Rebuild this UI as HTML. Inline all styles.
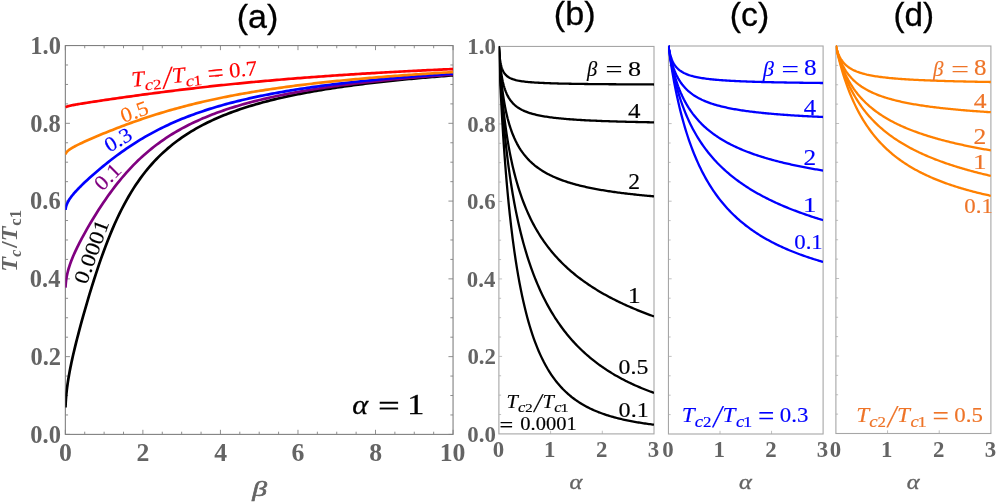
<!DOCTYPE html>
<html lang="en"><head><meta charset="utf-8"><title>Tc figure</title>
<style>html,body{margin:0;padding:0;background:#fff}svg{display:block;will-change:transform}</style></head>
<body>
<svg width="996" height="502" viewBox="0 0 996 502" role="img" aria-label="Tc/Tc1 versus beta and alpha">
<rect width="996" height="502" fill="#fff"/>
<g id="pa">
<path d="M65.35 434.40v-4.6M65.35 45.55v4.6M142.89 434.40v-4.6M142.89 45.55v4.6M220.43 434.40v-4.6M220.43 45.55v4.6M297.97 434.40v-4.6M297.97 45.55v4.6M375.51 434.40v-4.6M375.51 45.55v4.6M453.05 434.40v-4.6M453.05 45.55v4.6M84.73 434.40v-2.7M84.73 45.55v2.7M104.12 434.40v-2.7M104.12 45.55v2.7M123.50 434.40v-2.7M123.50 45.55v2.7M162.28 434.40v-2.7M162.28 45.55v2.7M181.66 434.40v-2.7M181.66 45.55v2.7M201.05 434.40v-2.7M201.05 45.55v2.7M239.81 434.40v-2.7M239.81 45.55v2.7M259.20 434.40v-2.7M259.20 45.55v2.7M278.59 434.40v-2.7M278.59 45.55v2.7M317.36 434.40v-2.7M317.36 45.55v2.7M336.74 434.40v-2.7M336.74 45.55v2.7M356.12 434.40v-2.7M356.12 45.55v2.7M394.89 434.40v-2.7M394.89 45.55v2.7M414.28 434.40v-2.7M414.28 45.55v2.7M433.67 434.40v-2.7M433.67 45.55v2.7M65.35 434.40h4.6M453.05 434.40h-4.6M65.35 356.63h4.6M453.05 356.63h-4.6M65.35 278.86h4.6M453.05 278.86h-4.6M65.35 201.09h4.6M453.05 201.09h-4.6M65.35 123.32h4.6M453.05 123.32h-4.6M65.35 45.55h4.6M453.05 45.55h-4.6M65.35 414.96h2.7M453.05 414.96h-2.7M65.35 395.51h2.7M453.05 395.51h-2.7M65.35 376.07h2.7M453.05 376.07h-2.7M65.35 337.19h2.7M453.05 337.19h-2.7M65.35 317.75h2.7M453.05 317.75h-2.7M65.35 298.30h2.7M453.05 298.30h-2.7M65.35 259.42h2.7M453.05 259.42h-2.7M65.35 239.97h2.7M453.05 239.97h-2.7M65.35 220.53h2.7M453.05 220.53h-2.7M65.35 181.65h2.7M453.05 181.65h-2.7M65.35 162.20h2.7M453.05 162.20h-2.7M65.35 142.76h2.7M453.05 142.76h-2.7M65.35 103.88h2.7M453.05 103.88h-2.7M65.35 84.44h2.7M453.05 84.44h-2.7M65.35 64.99h2.7M453.05 64.99h-2.7" stroke="#828282" stroke-width="0.9" fill="none"/>
<rect x="65.35" y="45.55" width="387.70" height="388.85" fill="none" stroke="#808080" stroke-width="1.1"/>
<clipPath id="cpa"><rect x="65.35" y="44.55" width="387.70" height="390.85"/></clipPath>
<polyline points="65.51,407.41 65.52,407.01 65.53,406.60 65.55,406.18 65.57,405.74 65.58,405.30 65.60,404.83 65.63,404.36 65.65,403.87 65.67,403.36 65.70,402.83 65.73,402.29 65.76,401.73 65.80,401.15 65.84,400.54 65.88,399.92 65.92,399.28 65.97,398.61 66.03,397.91 66.08,397.20 66.15,396.45 66.21,395.67 66.29,394.87 66.37,394.03 66.46,393.16 66.55,392.26 66.65,391.32 66.76,390.33 66.88,389.31 67.01,388.24 67.16,387.13 67.31,385.97 67.48,384.75 67.66,383.48 67.86,382.15 68.07,380.76 68.30,379.30 68.55,377.77 68.83,376.16 69.12,374.47 69.44,372.70 69.79,370.83 70.17,368.87 70.58,366.80 71.03,364.62 71.51,362.31 72.04,359.87 72.61,357.30 73.23,354.57 73.90,351.68 74.63,348.61 75.42,345.36 76.28,341.90 77.21,338.22 78.23,334.31 79.32,330.14 80.52,325.69 81.81,320.96 83.21,315.91 84.73,310.52 87.05,302.52 89.37,294.72 91.68,287.13 94.00,279.75 96.32,272.59 98.63,265.64 100.95,258.93 103.27,252.44 105.58,246.20 107.90,240.19 110.22,234.42 112.53,228.89 114.85,223.58 117.17,218.50 119.48,213.64 121.80,208.99 124.11,204.54 126.43,200.29 128.75,196.22 131.06,192.33 133.38,188.61 135.70,185.05 138.01,181.65 140.33,178.38 142.65,175.26 144.96,172.26 147.28,169.39 149.60,166.63 151.91,163.99 154.23,161.45 156.54,159.01 158.86,156.66 161.18,154.40 163.49,152.23 165.81,150.14 168.13,148.12 170.44,146.18 172.76,144.31 175.08,142.50 177.39,140.75 179.71,139.06 182.03,137.43 184.34,135.86 186.66,134.33 188.98,132.86 191.29,131.43 193.61,130.04 195.92,128.70 198.24,127.40 200.56,126.14 202.87,124.91 205.19,123.72 207.51,122.57 209.82,121.45 212.14,120.35 214.46,119.29 216.77,118.26 219.09,117.26 221.41,116.28 223.72,115.33 226.04,114.41 228.35,113.50 230.67,112.63 232.99,111.77 235.30,110.93 237.62,110.12 239.94,109.32 242.25,108.55 244.57,107.79 246.89,107.05 249.20,106.32 251.52,105.62 253.84,104.93 256.15,104.25 258.47,103.59 260.78,102.95 263.10,102.32 265.42,101.70 267.73,101.09 270.05,100.50 272.37,99.92 274.68,99.35 277.00,98.80 279.32,98.25 281.63,97.72 283.95,97.20 286.27,96.68 288.58,96.18 290.90,95.69 293.22,95.20 295.53,94.73 297.85,94.26 300.16,93.81 302.48,93.36 304.80,92.92 307.11,92.49 309.43,92.06 311.75,91.65 314.06,91.24 316.38,90.83 318.70,90.44 321.01,90.05 323.33,89.67 325.65,89.29 327.96,88.92 330.28,88.56 332.59,88.20 334.91,87.85 337.23,87.51 339.54,87.17 341.86,86.83 344.18,86.50 346.49,86.18 348.81,85.86 351.13,85.54 353.44,85.24 355.76,84.93 358.08,84.63 360.39,84.34 362.71,84.04 365.03,83.76 367.34,83.48 369.66,83.20 371.97,82.92 374.29,82.65 376.61,82.39 378.92,82.12 381.24,81.86 383.56,81.61 385.87,81.36 388.19,81.11 390.51,80.86 392.82,80.62 395.14,80.38 397.46,80.15 399.77,79.92 402.09,79.69 404.40,79.46 406.72,79.24 409.04,79.02 411.35,78.80 413.67,78.59 415.99,78.38 418.30,78.17 420.62,77.96 422.94,77.76 425.25,77.56 427.57,77.36 429.89,77.16 432.20,76.97 434.52,76.78 436.83,76.59 439.15,76.40 441.47,76.22 443.78,76.03 446.10,75.85 448.42,75.68 450.73,75.50 453.05,75.33" fill="none" stroke="#000000" stroke-width="2.7" stroke-linejoin="round" clip-path="url(#cpa)"/>
<polyline points="65.51,287.64 65.52,287.35 65.53,287.05 65.55,286.75 65.57,286.44 65.58,286.13 65.60,285.80 65.63,285.47 65.65,285.13 65.67,284.78 65.70,284.42 65.73,284.05 65.76,283.67 65.80,283.27 65.84,282.87 65.88,282.46 65.92,282.03 65.97,281.59 66.03,281.14 66.08,280.67 66.15,280.19 66.21,279.70 66.29,279.19 66.37,278.66 66.46,278.11 66.55,277.55 66.65,276.97 66.76,276.36 66.88,275.74 67.01,275.09 67.16,274.42 67.31,273.72 67.48,273.00 67.66,272.25 67.86,271.46 68.07,270.65 68.30,269.81 68.55,268.93 68.83,268.01 69.12,267.05 69.44,266.05 69.79,265.00 70.17,263.90 70.58,262.75 71.03,261.55 71.51,260.29 72.04,258.96 72.61,257.56 73.23,256.09 73.90,254.54 74.63,252.91 75.42,251.18 76.28,249.36 77.21,247.42 78.23,245.38 79.32,243.20 80.52,240.90 81.81,238.45 83.21,235.84 84.73,233.07 87.05,228.95 89.37,224.94 91.68,221.03 94.00,217.21 96.32,213.47 98.63,209.83 100.95,206.26 103.27,202.78 105.58,199.39 107.90,196.08 110.22,192.86 112.53,189.72 114.85,186.66 117.17,183.69 119.48,180.81 121.80,178.00 124.11,175.28 126.43,172.64 128.75,170.07 131.06,167.59 133.38,165.18 135.70,162.84 138.01,160.57 140.33,158.38 142.65,156.25 144.96,154.18 147.28,152.18 149.60,150.24 151.91,148.36 154.23,146.54 156.54,144.77 158.86,143.05 161.18,141.39 163.49,139.77 165.81,138.21 168.13,136.69 170.44,135.21 172.76,133.77 175.08,132.38 177.39,131.03 179.71,129.71 182.03,128.43 184.34,127.19 186.66,125.98 188.98,124.80 191.29,123.66 193.61,122.54 195.92,121.45 198.24,120.40 200.56,119.37 202.87,118.36 205.19,117.39 207.51,116.43 209.82,115.50 212.14,114.60 214.46,113.71 216.77,112.85 219.09,112.00 221.41,111.18 223.72,110.38 226.04,109.59 228.35,108.83 230.67,108.08 232.99,107.34 235.30,106.63 237.62,105.93 239.94,105.24 242.25,104.57 244.57,103.92 246.89,103.27 249.20,102.65 251.52,102.03 253.84,101.43 256.15,100.84 258.47,100.26 260.78,99.69 263.10,99.14 265.42,98.59 267.73,98.06 270.05,97.54 272.37,97.02 274.68,96.52 277.00,96.03 279.32,95.54 281.63,95.07 283.95,94.60 286.27,94.14 288.58,93.69 290.90,93.25 293.22,92.82 295.53,92.39 297.85,91.97 300.16,91.56 302.48,91.16 304.80,90.76 307.11,90.37 309.43,89.99 311.75,89.61 314.06,89.24 316.38,88.87 318.70,88.51 321.01,88.16 323.33,87.81 325.65,87.47 327.96,87.13 330.28,86.80 332.59,86.47 334.91,86.15 337.23,85.84 339.54,85.52 341.86,85.22 344.18,84.92 346.49,84.62 348.81,84.32 351.13,84.04 353.44,83.75 355.76,83.47 358.08,83.19 360.39,82.92 362.71,82.65 365.03,82.39 367.34,82.13 369.66,81.87 371.97,81.62 374.29,81.36 376.61,81.12 378.92,80.87 381.24,80.63 383.56,80.40 385.87,80.16 388.19,79.93 390.51,79.70 392.82,79.48 395.14,79.26 397.46,79.04 399.77,78.82 402.09,78.61 404.40,78.40 406.72,78.19 409.04,77.98 411.35,77.78 413.67,77.58 415.99,77.38 418.30,77.19 420.62,76.99 422.94,76.80 425.25,76.61 427.57,76.43 429.89,76.24 432.20,76.06 434.52,75.88 436.83,75.70 439.15,75.53 441.47,75.35 443.78,75.18 446.10,75.01 448.42,74.84 450.73,74.68 453.05,74.51" fill="none" stroke="#800080" stroke-width="2.7" stroke-linejoin="round" clip-path="url(#cpa)"/>
<polyline points="65.51,210.01 65.52,209.87 65.53,209.72 65.55,209.58 65.57,209.42 65.58,209.27 65.60,209.11 65.63,208.95 65.65,208.78 65.67,208.61 65.70,208.43 65.73,208.25 65.76,208.07 65.80,207.88 65.84,207.68 65.88,207.47 65.92,207.27 65.97,207.05 66.03,206.83 66.08,206.60 66.15,206.36 66.21,206.12 66.29,205.87 66.37,205.61 66.46,205.34 66.55,205.06 66.65,204.77 66.76,204.47 66.88,204.16 67.01,203.84 67.16,203.51 67.31,203.16 67.48,202.80 67.66,202.42 67.86,202.03 68.07,201.63 68.30,201.21 68.55,200.76 68.83,200.30 69.12,199.82 69.44,199.32 69.79,198.79 70.17,198.24 70.58,197.66 71.03,197.05 71.51,196.40 72.04,195.73 72.61,195.02 73.23,194.27 73.90,193.48 74.63,192.64 75.42,191.75 76.28,190.81 77.21,189.82 78.23,188.76 79.32,187.63 80.52,186.43 81.81,185.16 83.21,183.80 84.73,182.35 87.05,180.19 89.37,178.07 91.68,175.99 94.00,173.95 96.32,171.94 98.63,169.97 100.95,168.02 103.27,166.11 105.58,164.23 107.90,162.37 110.22,160.55 112.53,158.76 114.85,157.00 117.17,155.27 119.48,153.58 121.80,151.91 124.11,150.28 126.43,148.67 128.75,147.10 131.06,145.56 133.38,144.05 135.70,142.57 138.01,141.12 140.33,139.71 142.65,138.32 144.96,136.96 147.28,135.63 149.60,134.33 151.91,133.06 154.23,131.82 156.54,130.60 158.86,129.41 161.18,128.24 163.49,127.11 165.81,125.99 168.13,124.91 170.44,123.84 172.76,122.80 175.08,121.78 177.39,120.79 179.71,119.81 182.03,118.86 184.34,117.93 186.66,117.02 188.98,116.13 191.29,115.25 193.61,114.40 195.92,113.57 198.24,112.75 200.56,111.95 202.87,111.16 205.19,110.40 207.51,109.65 209.82,108.91 212.14,108.19 214.46,107.48 216.77,106.79 219.09,106.12 221.41,105.45 223.72,104.80 226.04,104.16 228.35,103.54 230.67,102.93 232.99,102.32 235.30,101.74 237.62,101.16 239.94,100.59 242.25,100.03 244.57,99.49 246.89,98.95 249.20,98.43 251.52,97.91 253.84,97.40 256.15,96.91 258.47,96.42 260.78,95.94 263.10,95.47 265.42,95.00 267.73,94.55 270.05,94.10 272.37,93.66 274.68,93.23 277.00,92.80 279.32,92.39 281.63,91.98 283.95,91.57 286.27,91.18 288.58,90.79 290.90,90.40 293.22,90.02 295.53,89.65 297.85,89.29 300.16,88.93 302.48,88.57 304.80,88.22 307.11,87.88 309.43,87.54 311.75,87.21 314.06,86.88 316.38,86.56 318.70,86.24 321.01,85.93 323.33,85.62 325.65,85.32 327.96,85.02 330.28,84.72 332.59,84.43 334.91,84.14 337.23,83.86 339.54,83.58 341.86,83.31 344.18,83.04 346.49,82.77 348.81,82.51 351.13,82.25 353.44,81.99 355.76,81.74 358.08,81.49 360.39,81.24 362.71,81.00 365.03,80.76 367.34,80.52 369.66,80.29 371.97,80.06 374.29,79.83 376.61,79.61 378.92,79.38 381.24,79.17 383.56,78.95 385.87,78.74 388.19,78.53 390.51,78.32 392.82,78.11 395.14,77.91 397.46,77.71 399.77,77.51 402.09,77.32 404.40,77.12 406.72,76.93 409.04,76.74 411.35,76.56 413.67,76.37 415.99,76.19 418.30,76.01 420.62,75.83 422.94,75.65 425.25,75.48 427.57,75.31 429.89,75.14 432.20,74.97 434.52,74.80 436.83,74.64 439.15,74.48 441.47,74.32 443.78,74.16 446.10,74.00 448.42,73.84 450.73,73.69 453.05,73.54" fill="none" stroke="#0000ff" stroke-width="2.7" stroke-linejoin="round" clip-path="url(#cpa)"/>
<polyline points="65.51,154.46 65.52,154.40 65.53,154.33 65.55,154.27 65.57,154.20 65.58,154.13 65.60,154.06 65.63,153.99 65.65,153.91 65.67,153.83 65.70,153.76 65.73,153.67 65.76,153.59 65.80,153.50 65.84,153.42 65.88,153.32 65.92,153.23 65.97,153.13 66.03,153.03 66.08,152.93 66.15,152.82 66.21,152.71 66.29,152.60 66.37,152.48 66.46,152.36 66.55,152.23 66.65,152.10 66.76,151.97 66.88,151.82 67.01,151.68 67.16,151.53 67.31,151.37 67.48,151.20 67.66,151.03 67.86,150.85 68.07,150.67 68.30,150.47 68.55,150.27 68.83,150.06 69.12,149.83 69.44,149.60 69.79,149.36 70.17,149.10 70.58,148.83 71.03,148.55 71.51,148.25 72.04,147.93 72.61,147.60 73.23,147.25 73.90,146.87 74.63,146.48 75.42,146.06 76.28,145.62 77.21,145.14 78.23,144.64 79.32,144.10 80.52,143.53 81.81,142.92 83.21,142.27 84.73,141.57 87.05,140.53 89.37,139.50 91.68,138.49 94.00,137.49 96.32,136.50 98.63,135.53 100.95,134.56 103.27,133.61 105.58,132.66 107.90,131.73 110.22,130.80 112.53,129.88 114.85,128.97 117.17,128.07 119.48,127.19 121.80,126.31 124.11,125.44 126.43,124.58 128.75,123.72 131.06,122.88 133.38,122.05 135.70,121.23 138.01,120.42 140.33,119.62 142.65,118.83 144.96,118.05 147.28,117.28 149.60,116.52 151.91,115.77 154.23,115.04 156.54,114.31 158.86,113.59 161.18,112.88 163.49,112.18 165.81,111.50 168.13,110.82 170.44,110.15 172.76,109.49 175.08,108.84 177.39,108.21 179.71,107.58 182.03,106.96 184.34,106.35 186.66,105.75 188.98,105.15 191.29,104.57 193.61,104.00 195.92,103.43 198.24,102.87 200.56,102.33 202.87,101.79 205.19,101.26 207.51,100.73 209.82,100.22 212.14,99.71 214.46,99.21 216.77,98.72 219.09,98.23 221.41,97.76 223.72,97.29 226.04,96.83 228.35,96.37 230.67,95.92 232.99,95.48 235.30,95.04 237.62,94.62 239.94,94.19 242.25,93.78 244.57,93.37 246.89,92.96 249.20,92.57 251.52,92.17 253.84,91.79 256.15,91.41 258.47,91.03 260.78,90.66 263.10,90.30 265.42,89.94 267.73,89.59 270.05,89.24 272.37,88.90 274.68,88.56 277.00,88.22 279.32,87.89 281.63,87.57 283.95,87.25 286.27,86.93 288.58,86.62 290.90,86.31 293.22,86.01 295.53,85.71 297.85,85.42 300.16,85.13 302.48,84.84 304.80,84.56 307.11,84.28 309.43,84.00 311.75,83.73 314.06,83.46 316.38,83.20 318.70,82.94 321.01,82.68 323.33,82.42 325.65,82.17 327.96,81.93 330.28,81.68 332.59,81.44 334.91,81.20 337.23,80.96 339.54,80.73 341.86,80.50 344.18,80.27 346.49,80.05 348.81,79.83 351.13,79.61 353.44,79.39 355.76,79.18 358.08,78.97 360.39,78.76 362.71,78.55 365.03,78.35 367.34,78.15 369.66,77.95 371.97,77.75 374.29,77.56 376.61,77.36 378.92,77.17 381.24,76.99 383.56,76.80 385.87,76.62 388.19,76.44 390.51,76.26 392.82,76.08 395.14,75.90 397.46,75.73 399.77,75.56 402.09,75.39 404.40,75.22 406.72,75.05 409.04,74.89 411.35,74.73 413.67,74.56 415.99,74.41 418.30,74.25 420.62,74.09 422.94,73.94 425.25,73.79 427.57,73.63 429.89,73.48 432.20,73.34 434.52,73.19 436.83,73.05 439.15,72.90 441.47,72.76 443.78,72.62 446.10,72.48 448.42,72.34 450.73,72.21 453.05,72.07" fill="none" stroke="#ff8000" stroke-width="2.7" stroke-linejoin="round" clip-path="url(#cpa)"/>
<polyline points="65.51,107.47 65.52,107.45 65.53,107.43 65.55,107.41 65.57,107.39 65.58,107.37 65.60,107.34 65.63,107.32 65.65,107.30 65.67,107.27 65.70,107.24 65.73,107.22 65.76,107.19 65.80,107.16 65.84,107.13 65.88,107.10 65.92,107.07 65.97,107.04 66.03,107.01 66.08,106.97 66.15,106.94 66.21,106.90 66.29,106.86 66.37,106.83 66.46,106.79 66.55,106.74 66.65,106.70 66.76,106.65 66.88,106.61 67.01,106.56 67.16,106.51 67.31,106.46 67.48,106.40 67.66,106.34 67.86,106.28 68.07,106.22 68.30,106.16 68.55,106.09 68.83,106.02 69.12,105.94 69.44,105.86 69.79,105.78 70.17,105.69 70.58,105.60 71.03,105.51 71.51,105.41 72.04,105.30 72.61,105.18 73.23,105.06 73.90,104.94 74.63,104.80 75.42,104.66 76.28,104.50 77.21,104.34 78.23,104.17 79.32,103.98 80.52,103.78 81.81,103.57 83.21,103.34 84.73,103.10 87.05,102.74 89.37,102.38 91.68,102.02 94.00,101.67 96.32,101.32 98.63,100.97 100.95,100.62 103.27,100.28 105.58,99.94 107.90,99.60 110.22,99.26 112.53,98.93 114.85,98.59 117.17,98.26 119.48,97.93 121.80,97.60 124.11,97.27 126.43,96.95 128.75,96.62 131.06,96.30 133.38,95.98 135.70,95.66 138.01,95.34 140.33,95.03 142.65,94.71 144.96,94.40 147.28,94.09 149.60,93.78 151.91,93.48 154.23,93.17 156.54,92.87 158.86,92.57 161.18,92.27 163.49,91.97 165.81,91.68 168.13,91.38 170.44,91.09 172.76,90.80 175.08,90.52 177.39,90.23 179.71,89.95 182.03,89.67 184.34,89.39 186.66,89.11 188.98,88.84 191.29,88.57 193.61,88.29 195.92,88.03 198.24,87.76 200.56,87.50 202.87,87.23 205.19,86.97 207.51,86.72 209.82,86.46 212.14,86.21 214.46,85.95 216.77,85.71 219.09,85.46 221.41,85.21 223.72,84.97 226.04,84.73 228.35,84.49 230.67,84.25 232.99,84.02 235.30,83.78 237.62,83.55 239.94,83.32 242.25,83.10 244.57,82.87 246.89,82.65 249.20,82.43 251.52,82.21 253.84,81.99 256.15,81.78 258.47,81.56 260.78,81.35 263.10,81.14 265.42,80.94 267.73,80.73 270.05,80.53 272.37,80.32 274.68,80.12 277.00,79.93 279.32,79.73 281.63,79.53 283.95,79.34 286.27,79.15 288.58,78.96 290.90,78.77 293.22,78.59 295.53,78.40 297.85,78.22 300.16,78.04 302.48,77.86 304.80,77.68 307.11,77.51 309.43,77.33 311.75,77.16 314.06,76.99 316.38,76.82 318.70,76.65 321.01,76.48 323.33,76.32 325.65,76.15 327.96,75.99 330.28,75.83 332.59,75.67 334.91,75.51 337.23,75.36 339.54,75.20 341.86,75.05 344.18,74.90 346.49,74.74 348.81,74.59 351.13,74.45 353.44,74.30 355.76,74.15 358.08,74.01 360.39,73.87 362.71,73.72 365.03,73.58 367.34,73.44 369.66,73.31 371.97,73.17 374.29,73.03 376.61,72.90 378.92,72.77 381.24,72.63 383.56,72.50 385.87,72.37 388.19,72.24 390.51,72.12 392.82,71.99 395.14,71.86 397.46,71.74 399.77,71.62 402.09,71.49 404.40,71.37 406.72,71.25 409.04,71.13 411.35,71.01 413.67,70.90 415.99,70.78 418.30,70.66 420.62,70.55 422.94,70.44 425.25,70.32 427.57,70.21 429.89,70.10 432.20,69.99 434.52,69.88 436.83,69.78 439.15,69.67 441.47,69.56 443.78,69.46 446.10,69.35 448.42,69.25 450.73,69.15 453.05,69.04" fill="none" stroke="#ff0000" stroke-width="2.7" stroke-linejoin="round" clip-path="url(#cpa)"/>
</g>
<g id="pb">
<path d="M550.60 433.90v-3.2M602.30 433.90v-3.2M498.90 356.41h3.2M498.90 278.92h3.2M498.90 201.43h3.2M498.90 123.94h3.2M498.90 414.53h2.2M498.90 395.15h2.2M498.90 375.78h2.2M498.90 337.04h2.2M498.90 317.66h2.2M498.90 298.29h2.2M498.90 259.55h2.2M498.90 240.17h2.2M498.90 220.80h2.2M498.90 182.06h2.2M498.90 162.68h2.2M498.90 143.31h2.2M498.90 104.57h2.2M498.90 85.19h2.2M498.90 65.82h2.2" stroke="#b0b0b0" stroke-width="0.8" fill="none"/>
<rect x="498.90" y="46.45" width="155.10" height="387.45" fill="none" stroke="#a6a6a6" stroke-width="1.1"/>
<clipPath id="cpb"><rect x="498.90" y="45.45" width="155.10" height="389.45"/></clipPath>
<polyline points="498.90,46.45 498.91,46.61 498.91,46.62 498.91,46.64 498.91,46.67 498.91,46.69 498.91,46.72 498.91,46.75 498.91,46.78 498.91,46.82 498.91,46.86 498.92,46.90 498.92,46.95 498.92,47.01 498.92,47.07 498.93,47.14 498.93,47.21 498.93,47.29 498.94,47.38 498.94,47.48 498.95,47.59 498.95,47.72 498.96,47.85 498.97,48.00 498.97,48.16 498.98,48.33 498.99,48.53 499.01,48.74 499.02,48.97 499.03,49.23 499.05,49.50 499.07,49.81 499.09,50.13 499.11,50.49 499.14,50.88 499.17,51.30 499.20,51.75 499.24,52.24 499.28,52.77 499.33,53.33 499.38,53.93 499.44,54.58 499.50,55.26 499.58,55.99 499.66,56.76 499.75,57.56 499.86,58.41 499.98,59.29 500.11,60.21 500.26,61.16 500.42,62.14 500.61,63.14 500.82,64.16 501.06,65.19 501.32,66.22 501.62,67.26 501.96,68.30 502.33,69.32 502.75,70.33 503.23,71.31 503.76,72.27 504.36,73.20 505.03,74.09 505.78,74.94 506.63,75.75 507.58,76.52 508.65,77.25 509.85,77.93 511.20,78.56 512.71,79.15 514.41,79.70 515.69,80.05 516.97,80.36 518.25,80.63 519.53,80.87 520.81,81.09 522.09,81.29 523.37,81.47 524.66,81.63 525.94,81.78 527.22,81.91 528.50,82.04 529.78,82.16 531.06,82.26 532.34,82.36 533.62,82.46 534.90,82.54 536.18,82.62 537.46,82.70 538.74,82.77 540.02,82.84 541.30,82.90 542.58,82.97 543.86,83.02 545.15,83.08 546.43,83.13 547.71,83.18 548.99,83.22 550.27,83.27 551.55,83.31 552.83,83.35 554.11,83.39 555.39,83.43 556.67,83.46 557.95,83.50 559.23,83.53 560.51,83.56 561.79,83.59 563.07,83.62 564.36,83.65 565.64,83.67 566.92,83.70 568.20,83.72 569.48,83.75 570.76,83.77 572.04,83.79 573.32,83.82 574.60,83.84 575.88,83.86 577.16,83.88 578.44,83.90 579.72,83.91 581.00,83.93 582.28,83.95 583.56,83.97 584.85,83.98 586.13,84.00 587.41,84.01 588.69,84.03 589.97,84.04 591.25,84.06 592.53,84.07 593.81,84.09 595.09,84.10 596.37,84.11 597.65,84.13 598.93,84.14 600.21,84.15 601.49,84.16 602.77,84.17 604.05,84.18 605.34,84.19 606.62,84.20 607.90,84.22 609.18,84.23 610.46,84.23 611.74,84.24 613.02,84.25 614.30,84.26 615.58,84.27 616.86,84.28 618.14,84.29 619.42,84.30 620.70,84.31 621.98,84.31 623.26,84.32 624.55,84.33 625.83,84.34 627.11,84.35 628.39,84.35 629.67,84.36 630.95,84.37 632.23,84.37 633.51,84.38 634.79,84.39 636.07,84.39 637.35,84.40 638.63,84.41 639.91,84.41 641.19,84.42 642.47,84.43 643.75,84.43 645.04,84.44 646.32,84.44 647.60,84.45 648.88,84.45 650.16,84.46 651.44,84.47 652.72,84.47 654.00,84.48" fill="none" stroke="#000000" stroke-width="2.3" stroke-linejoin="round" clip-path="url(#cpb)"/>
<polyline points="498.90,46.45 498.91,46.62 498.91,46.63 498.91,46.66 498.91,46.68 498.91,46.70 498.91,46.73 498.91,46.77 498.91,46.80 498.91,46.84 498.91,46.88 498.92,46.93 498.92,46.99 498.92,47.05 498.92,47.11 498.93,47.19 498.93,47.27 498.93,47.36 498.94,47.46 498.94,47.57 498.95,47.69 498.95,47.83 498.96,47.97 498.97,48.14 498.97,48.32 498.98,48.52 498.99,48.74 499.01,48.98 499.02,49.25 499.03,49.54 499.05,49.86 499.07,50.22 499.09,50.60 499.11,51.03 499.14,51.49 499.17,52.00 499.20,52.55 499.24,53.15 499.28,53.80 499.33,54.51 499.38,55.28 499.44,56.11 499.50,57.00 499.58,57.97 499.66,59.01 499.75,60.12 499.86,61.31 499.98,62.58 500.11,63.92 500.26,65.35 500.42,66.86 500.61,68.44 500.82,70.10 501.06,71.84 501.32,73.64 501.62,75.50 501.96,77.42 502.33,79.39 502.75,81.39 503.23,83.43 503.76,85.48 504.36,87.54 505.03,89.60 505.78,91.64 506.63,93.67 507.58,95.65 508.65,97.59 509.85,99.48 511.20,101.31 512.71,103.07 514.41,104.75 515.69,105.86 516.97,106.85 518.25,107.74 519.53,108.55 520.81,109.29 522.09,109.96 523.37,110.58 524.66,111.15 525.94,111.67 527.22,112.16 528.50,112.62 529.78,113.04 531.06,113.44 532.34,113.81 533.62,114.15 534.90,114.48 536.18,114.79 537.46,115.08 538.74,115.36 540.02,115.62 541.30,115.86 542.58,116.10 543.86,116.32 545.15,116.53 546.43,116.74 547.71,116.93 548.99,117.11 550.27,117.29 551.55,117.46 552.83,117.62 554.11,117.78 555.39,117.93 556.67,118.07 557.95,118.21 559.23,118.34 560.51,118.47 561.79,118.59 563.07,118.71 564.36,118.82 565.64,118.93 566.92,119.04 568.20,119.14 569.48,119.24 570.76,119.34 572.04,119.43 573.32,119.52 574.60,119.61 575.88,119.70 577.16,119.78 578.44,119.86 579.72,119.94 581.00,120.01 582.28,120.09 583.56,120.16 584.85,120.23 586.13,120.29 587.41,120.36 588.69,120.42 589.97,120.49 591.25,120.55 592.53,120.61 593.81,120.66 595.09,120.72 596.37,120.77 597.65,120.83 598.93,120.88 600.21,120.93 601.49,120.98 602.77,121.03 604.05,121.08 605.34,121.12 606.62,121.17 607.90,121.21 609.18,121.26 610.46,121.30 611.74,121.34 613.02,121.38 614.30,121.42 615.58,121.46 616.86,121.50 618.14,121.54 619.42,121.58 620.70,121.61 621.98,121.65 623.26,121.68 624.55,121.72 625.83,121.75 627.11,121.78 628.39,121.81 629.67,121.85 630.95,121.88 632.23,121.91 633.51,121.94 634.79,121.97 636.07,122.00 637.35,122.02 638.63,122.05 639.91,122.08 641.19,122.11 642.47,122.13 643.75,122.16 645.04,122.18 646.32,122.21 647.60,122.23 648.88,122.26 650.16,122.28 651.44,122.31 652.72,122.33 654.00,122.35" fill="none" stroke="#000000" stroke-width="2.3" stroke-linejoin="round" clip-path="url(#cpb)"/>
<polyline points="498.90,46.45 498.91,46.62 498.91,46.64 498.91,46.66 498.91,46.69 498.91,46.72 498.91,46.75 498.91,46.78 498.91,46.82 498.91,46.86 498.91,46.91 498.92,46.96 498.92,47.02 498.92,47.08 498.92,47.15 498.93,47.23 498.93,47.32 498.93,47.42 498.94,47.53 498.94,47.65 498.95,47.78 498.95,47.93 498.96,48.09 498.97,48.27 498.97,48.47 498.98,48.69 498.99,48.93 499.01,49.20 499.02,49.50 499.03,49.83 499.05,50.19 499.07,50.59 499.09,51.03 499.11,51.51 499.14,52.04 499.17,52.62 499.20,53.26 499.24,53.96 499.28,54.73 499.33,55.57 499.38,56.48 499.44,57.48 499.50,58.57 499.58,59.75 499.66,61.04 499.75,62.43 499.86,63.93 499.98,65.56 500.11,67.31 500.26,69.19 500.42,71.21 500.61,73.37 500.82,75.67 501.06,78.13 501.32,80.73 501.62,83.48 501.96,86.38 502.33,89.42 502.75,92.61 503.23,95.93 503.76,99.39 504.36,102.96 505.03,106.64 505.78,110.42 506.63,114.29 507.58,118.22 508.65,122.20 509.85,126.22 511.20,130.26 512.71,134.30 514.41,138.32 515.69,141.05 516.97,143.57 518.25,145.89 519.53,148.04 520.81,150.04 522.09,151.90 523.37,153.65 524.66,155.29 525.94,156.83 527.22,158.29 528.50,159.66 529.78,160.96 531.06,162.19 532.34,163.36 533.62,164.47 534.90,165.53 536.18,166.54 537.46,167.50 538.74,168.42 540.02,169.31 541.30,170.15 542.58,170.96 543.86,171.74 545.15,172.49 546.43,173.21 547.71,173.90 548.99,174.56 550.27,175.21 551.55,175.83 552.83,176.43 554.11,177.00 555.39,177.56 556.67,178.10 557.95,178.63 559.23,179.13 560.51,179.62 561.79,180.10 563.07,180.56 564.36,181.01 565.64,181.45 566.92,181.87 568.20,182.28 569.48,182.68 570.76,183.07 572.04,183.45 573.32,183.81 574.60,184.17 575.88,184.52 577.16,184.86 578.44,185.19 579.72,185.52 581.00,185.83 582.28,186.14 583.56,186.44 584.85,186.73 586.13,187.02 587.41,187.30 588.69,187.58 589.97,187.84 591.25,188.10 592.53,188.36 593.81,188.61 595.09,188.86 596.37,189.10 597.65,189.33 598.93,189.56 600.21,189.79 601.49,190.01 602.77,190.22 604.05,190.44 605.34,190.64 606.62,190.85 607.90,191.05 609.18,191.24 610.46,191.44 611.74,191.62 613.02,191.81 614.30,191.99 615.58,192.17 616.86,192.35 618.14,192.52 619.42,192.69 620.70,192.85 621.98,193.02 623.26,193.18 624.55,193.34 625.83,193.49 627.11,193.64 628.39,193.79 629.67,193.94 630.95,194.09 632.23,194.23 633.51,194.37 634.79,194.51 636.07,194.65 637.35,194.78 638.63,194.91 639.91,195.04 641.19,195.17 642.47,195.30 643.75,195.42 645.04,195.54 646.32,195.66 647.60,195.78 648.88,195.90 650.16,196.01 651.44,196.13 652.72,196.24 654.00,196.35" fill="none" stroke="#000000" stroke-width="2.3" stroke-linejoin="round" clip-path="url(#cpb)"/>
<polyline points="498.90,46.45 498.91,46.63 498.91,46.65 498.91,46.67 498.91,46.70 498.91,46.73 498.91,46.76 498.91,46.80 498.91,46.84 498.91,46.88 498.91,46.93 498.92,46.99 498.92,47.05 498.92,47.11 498.92,47.19 498.93,47.27 498.93,47.37 498.93,47.47 498.94,47.59 498.94,47.72 498.95,47.86 498.95,48.02 498.96,48.19 498.97,48.39 498.97,48.60 498.98,48.84 498.99,49.11 499.01,49.40 499.02,49.73 499.03,50.09 499.05,50.49 499.07,50.93 499.09,51.41 499.11,51.95 499.14,52.54 499.17,53.19 499.20,53.91 499.24,54.70 499.28,55.57 499.33,56.52 499.38,57.57 499.44,58.72 499.50,59.98 499.58,61.35 499.66,62.86 499.75,64.49 499.86,66.28 499.98,68.23 500.11,70.34 500.26,72.63 500.42,75.10 500.61,77.78 500.82,80.66 501.06,83.77 501.32,87.10 501.62,90.67 501.96,94.48 502.33,98.53 502.75,102.85 503.23,107.42 503.76,112.24 504.36,117.32 505.03,122.66 505.78,128.24 506.63,134.06 507.58,140.12 508.65,146.39 509.85,152.87 511.20,159.54 512.71,166.38 514.41,173.38 515.69,178.24 516.97,182.80 518.25,187.09 519.53,191.13 520.81,194.95 522.09,198.57 523.37,202.01 524.66,205.29 525.94,208.41 527.22,211.40 528.50,214.26 529.78,217.00 531.06,219.64 532.34,222.17 533.62,224.60 534.90,226.95 536.18,229.21 537.46,231.40 538.74,233.52 540.02,235.56 541.30,237.54 542.58,239.46 543.86,241.32 545.15,243.13 546.43,244.89 547.71,246.59 548.99,248.25 550.27,249.87 551.55,251.44 552.83,252.97 554.11,254.47 555.39,255.92 556.67,257.34 557.95,258.73 559.23,260.09 560.51,261.41 561.79,262.71 563.07,263.98 564.36,265.21 565.64,266.43 566.92,267.62 568.20,268.78 569.48,269.92 570.76,271.04 572.04,272.13 573.32,273.21 574.60,274.26 575.88,275.29 577.16,276.31 578.44,277.31 579.72,278.28 581.00,279.25 582.28,280.19 583.56,281.12 584.85,282.03 586.13,282.93 587.41,283.81 588.69,284.68 589.97,285.54 591.25,286.38 592.53,287.21 593.81,288.02 595.09,288.83 596.37,289.62 597.65,290.40 598.93,291.17 600.21,291.92 601.49,292.67 602.77,293.41 604.05,294.13 605.34,294.85 606.62,295.55 607.90,296.25 609.18,296.93 610.46,297.61 611.74,298.28 613.02,298.94 614.30,299.59 615.58,300.23 616.86,300.87 618.14,301.50 619.42,302.12 620.70,302.73 621.98,303.33 623.26,303.93 624.55,304.52 625.83,305.10 627.11,305.68 628.39,306.25 629.67,306.82 630.95,307.37 632.23,307.92 633.51,308.47 634.79,309.01 636.07,309.54 637.35,310.07 638.63,310.59 639.91,311.11 641.19,311.62 642.47,312.12 643.75,312.62 645.04,313.12 646.32,313.61 647.60,314.09 648.88,314.57 650.16,315.05 651.44,315.52 652.72,315.98 654.00,316.45" fill="none" stroke="#000000" stroke-width="2.3" stroke-linejoin="round" clip-path="url(#cpb)"/>
<polyline points="498.90,46.45 498.91,46.64 498.91,46.66 498.91,46.68 498.91,46.71 498.91,46.74 498.91,46.77 498.91,46.81 498.91,46.85 498.91,46.90 498.91,46.95 498.92,47.01 498.92,47.07 498.92,47.14 498.92,47.22 498.93,47.31 498.93,47.41 498.93,47.52 498.94,47.64 498.94,47.78 498.95,47.93 498.95,48.10 498.96,48.29 498.97,48.50 498.97,48.73 498.98,48.98 498.99,49.27 499.01,49.59 499.02,49.94 499.03,50.33 499.05,50.76 499.07,51.23 499.09,51.76 499.11,52.35 499.14,52.99 499.17,53.71 499.20,54.50 499.24,55.37 499.28,56.33 499.33,57.39 499.38,58.55 499.44,59.83 499.50,61.24 499.58,62.79 499.66,64.49 499.75,66.35 499.86,68.39 499.98,70.61 500.11,73.04 500.26,75.69 500.42,78.57 500.61,81.70 500.82,85.09 501.06,88.76 501.32,92.73 501.62,97.01 501.96,101.61 502.33,106.55 502.75,111.83 503.23,117.47 503.76,123.48 504.36,129.86 505.03,136.61 505.78,143.74 506.63,151.24 507.58,159.11 508.65,167.33 509.85,175.89 511.20,184.79 512.71,193.99 514.41,203.47 515.69,210.10 516.97,216.35 518.25,222.24 519.53,227.82 520.81,233.11 522.09,238.14 523.37,242.93 524.66,247.51 525.94,251.88 527.22,256.06 528.50,260.06 529.78,263.91 531.06,267.60 532.34,271.15 533.62,274.57 534.90,277.87 536.18,281.05 537.46,284.12 538.74,287.08 540.02,289.95 541.30,292.72 542.58,295.41 543.86,298.01 545.15,300.53 546.43,302.98 547.71,305.35 548.99,307.66 550.27,309.90 551.55,312.08 552.83,314.19 554.11,316.25 555.39,318.26 556.67,320.21 557.95,322.11 559.23,323.97 560.51,325.77 561.79,327.53 563.07,329.25 564.36,330.93 565.64,332.56 566.92,334.16 568.20,335.72 569.48,337.25 570.76,338.73 572.04,340.19 573.32,341.61 574.60,343.00 575.88,344.36 577.16,345.70 578.44,347.00 579.72,348.27 581.00,349.52 582.28,350.74 583.56,351.94 584.85,353.11 586.13,354.26 587.41,355.39 588.69,356.49 589.97,357.57 591.25,358.63 592.53,359.67 593.81,360.69 595.09,361.69 596.37,362.67 597.65,363.63 598.93,364.57 600.21,365.50 601.49,366.41 602.77,367.30 604.05,368.17 605.34,369.03 606.62,369.88 607.90,370.71 609.18,371.52 610.46,372.32 611.74,373.11 613.02,373.88 614.30,374.64 615.58,375.38 616.86,376.12 618.14,376.84 619.42,377.54 620.70,378.24 621.98,378.92 623.26,379.60 624.55,380.26 625.83,380.91 627.11,381.55 628.39,382.18 629.67,382.80 630.95,383.41 632.23,384.01 633.51,384.60 634.79,385.18 636.07,385.75 637.35,386.31 638.63,386.87 639.91,387.41 641.19,387.95 642.47,388.48 643.75,389.00 645.04,389.51 646.32,390.01 647.60,390.51 648.88,391.00 650.16,391.48 651.44,391.95 652.72,392.42 654.00,392.88" fill="none" stroke="#000000" stroke-width="2.3" stroke-linejoin="round" clip-path="url(#cpb)"/>
<polyline points="498.90,46.45 498.91,46.65 498.91,46.67 498.91,46.70 498.91,46.73 498.91,46.76 498.91,46.80 498.91,46.84 498.91,46.88 498.91,46.94 498.91,46.99 498.92,47.06 498.92,47.13 498.92,47.21 498.92,47.29 498.93,47.39 498.93,47.50 498.93,47.62 498.94,47.76 498.94,47.91 498.95,48.08 498.95,48.27 498.96,48.48 498.97,48.72 498.97,48.98 498.98,49.27 498.99,49.59 499.01,49.96 499.02,50.36 499.03,50.80 499.05,51.30 499.07,51.85 499.09,52.46 499.11,53.14 499.14,53.90 499.17,54.74 499.20,55.67 499.24,56.70 499.28,57.84 499.33,59.10 499.38,60.50 499.44,62.04 499.50,63.75 499.58,65.63 499.66,67.71 499.75,70.00 499.86,72.51 499.98,75.28 500.11,78.31 500.26,81.64 500.42,85.29 500.61,89.27 500.82,93.61 501.06,98.34 501.32,103.48 501.62,109.05 501.96,115.08 502.33,121.58 502.75,128.59 503.23,136.10 503.76,144.14 504.36,152.71 505.03,161.81 505.78,171.44 506.63,181.59 507.58,192.24 508.65,203.36 509.85,214.91 511.20,226.84 512.71,239.10 514.41,251.60 515.69,260.26 516.97,268.33 518.25,275.87 519.53,282.93 520.81,289.54 522.09,295.76 523.37,301.60 524.66,307.10 525.94,312.29 527.22,317.19 528.50,321.82 529.78,326.21 531.06,330.36 532.34,334.29 533.62,338.03 534.90,341.58 536.18,344.95 537.46,348.15 538.74,351.21 540.02,354.12 541.30,356.89 542.58,359.53 543.86,362.06 545.15,364.47 546.43,366.77 547.71,368.98 548.99,371.08 550.27,373.10 551.55,375.03 552.83,376.88 554.11,378.66 555.39,380.36 556.67,381.99 557.95,383.56 559.23,385.06 560.51,386.51 561.79,387.90 563.07,389.24 564.36,390.52 565.64,391.76 566.92,392.95 568.20,394.09 569.48,395.20 570.76,396.26 572.04,397.28 573.32,398.27 574.60,399.22 575.88,400.14 577.16,401.03 578.44,401.89 579.72,402.71 581.00,403.51 582.28,404.29 583.56,405.03 584.85,405.75 586.13,406.45 587.41,407.12 588.69,407.78 589.97,408.41 591.25,409.02 592.53,409.61 593.81,410.19 595.09,410.74 596.37,411.28 597.65,411.80 598.93,412.31 600.21,412.80 601.49,413.27 602.77,413.73 604.05,414.18 605.34,414.61 606.62,415.04 607.90,415.45 609.18,415.84 610.46,416.23 611.74,416.60 613.02,416.97 614.30,417.32 615.58,417.67 616.86,418.00 618.14,418.33 619.42,418.64 620.70,418.95 621.98,419.25 623.26,419.54 624.55,419.82 625.83,420.10 627.11,420.37 628.39,420.63 629.67,420.89 630.95,421.13 632.23,421.38 633.51,421.61 634.79,421.84 636.07,422.07 637.35,422.28 638.63,422.50 639.91,422.70 641.19,422.91 642.47,423.10 643.75,423.30 645.04,423.49 646.32,423.67 647.60,423.85 648.88,424.02 650.16,424.19 651.44,424.36 652.72,424.52 654.00,424.68" fill="none" stroke="#000000" stroke-width="2.3" stroke-linejoin="round" clip-path="url(#cpb)"/>
</g>
<g id="pc">
<path d="M720.00 434.00v-3.2M771.55 434.00v-3.2M668.45 356.40h3.2M668.45 278.80h3.2M668.45 201.20h3.2M668.45 123.60h3.2M668.45 414.60h2.2M668.45 395.20h2.2M668.45 375.80h2.2M668.45 337.00h2.2M668.45 317.60h2.2M668.45 298.20h2.2M668.45 259.40h2.2M668.45 240.00h2.2M668.45 220.60h2.2M668.45 181.80h2.2M668.45 162.40h2.2M668.45 143.00h2.2M668.45 104.20h2.2M668.45 84.80h2.2M668.45 65.40h2.2" stroke="#b0b0b0" stroke-width="0.8" fill="none"/>
<rect x="668.45" y="46.00" width="154.65" height="388.00" fill="none" stroke="#a6a6a6" stroke-width="1.1"/>
<clipPath id="cpc"><rect x="668.45" y="45.00" width="154.65" height="390.00"/></clipPath>
<polyline points="668.45,46.00 668.46,46.04 668.46,46.04 668.46,46.05 668.46,46.06 668.46,46.06 668.46,46.07 668.46,46.08 668.46,46.09 668.46,46.10 668.46,46.11 668.47,46.12 668.47,46.14 668.47,46.16 668.47,46.17 668.48,46.20 668.48,46.22 668.48,46.24 668.49,46.27 668.49,46.31 668.50,46.34 668.50,46.38 668.51,46.43 668.52,46.48 668.52,46.53 668.53,46.59 668.54,46.66 668.56,46.74 668.57,46.83 668.58,46.92 668.60,47.03 668.62,47.15 668.64,47.28 668.66,47.42 668.69,47.58 668.72,47.76 668.75,47.96 668.79,48.17 668.83,48.41 668.87,48.68 668.93,48.97 668.98,49.29 669.05,49.64 669.12,50.02 669.21,50.44 669.30,50.89 669.40,51.38 669.52,51.92 669.65,52.49 669.80,53.11 669.97,53.78 670.16,54.49 670.37,55.24 670.60,56.04 670.87,56.88 671.16,57.76 671.50,58.69 671.87,59.64 672.29,60.63 672.77,61.65 673.30,62.69 673.89,63.74 674.56,64.80 675.31,65.87 676.16,66.94 677.11,67.99 678.17,69.04 679.37,70.06 680.71,71.05 682.22,72.02 683.92,72.95 685.19,73.56 686.47,74.12 687.75,74.62 689.02,75.07 690.30,75.49 691.58,75.87 692.85,76.22 694.13,76.54 695.41,76.84 696.68,77.12 697.96,77.38 699.24,77.62 700.52,77.84 701.79,78.06 703.07,78.25 704.35,78.44 705.62,78.62 706.90,78.79 708.18,78.94 709.45,79.09 710.73,79.24 712.01,79.37 713.28,79.50 714.56,79.62 715.84,79.74 717.12,79.85 718.39,79.96 719.67,80.06 720.95,80.16 722.22,80.25 723.50,80.34 724.78,80.43 726.05,80.51 727.33,80.59 728.61,80.67 729.88,80.74 731.16,80.82 732.44,80.88 733.72,80.95 734.99,81.02 736.27,81.08 737.55,81.14 738.82,81.20 740.10,81.25 741.38,81.31 742.65,81.36 743.93,81.41 745.21,81.46 746.48,81.51 747.76,81.55 749.04,81.60 750.32,81.64 751.59,81.69 752.87,81.73 754.15,81.77 755.42,81.81 756.70,81.85 757.98,81.88 759.25,81.92 760.53,81.96 761.81,81.99 763.08,82.02 764.36,82.06 765.64,82.09 766.92,82.12 768.19,82.15 769.47,82.18 770.75,82.21 772.02,82.24 773.30,82.27 774.58,82.29 775.85,82.32 777.13,82.35 778.41,82.37 779.68,82.40 780.96,82.42 782.24,82.45 783.52,82.47 784.79,82.49 786.07,82.52 787.35,82.54 788.62,82.56 789.90,82.58 791.18,82.60 792.45,82.62 793.73,82.64 795.01,82.66 796.28,82.68 797.56,82.70 798.84,82.72 800.12,82.74 801.39,82.75 802.67,82.77 803.95,82.79 805.22,82.81 806.50,82.82 807.78,82.84 809.05,82.85 810.33,82.87 811.61,82.89 812.88,82.90 814.16,82.92 815.44,82.93 816.72,82.95 817.99,82.96 819.27,82.97 820.55,82.99 821.82,83.00 823.10,83.01" fill="none" stroke="#0000ff" stroke-width="2.3" stroke-linejoin="round" clip-path="url(#cpc)"/>
<polyline points="668.45,46.00 668.46,46.04 668.46,46.05 668.46,46.05 668.46,46.06 668.46,46.06 668.46,46.07 668.46,46.08 668.46,46.09 668.46,46.10 668.46,46.11 668.47,46.13 668.47,46.14 668.47,46.16 668.47,46.18 668.48,46.20 668.48,46.22 668.48,46.25 668.49,46.28 668.49,46.31 668.50,46.35 668.50,46.39 668.51,46.44 668.52,46.49 668.52,46.55 668.53,46.61 668.54,46.68 668.56,46.77 668.57,46.85 668.58,46.96 668.60,47.07 668.62,47.19 668.64,47.33 668.66,47.48 668.69,47.65 668.72,47.85 668.75,48.06 668.79,48.29 668.83,48.55 668.87,48.84 668.93,49.16 668.98,49.51 669.05,49.90 669.12,50.33 669.21,50.81 669.30,51.33 669.40,51.90 669.52,52.53 669.65,53.21 669.80,53.96 669.97,54.78 670.16,55.66 670.37,56.62 670.60,57.66 670.87,58.78 671.16,59.98 671.50,61.26 671.87,62.63 672.29,64.08 672.77,65.62 673.30,67.24 673.89,68.93 674.56,70.70 675.31,72.53 676.16,74.43 677.11,76.38 678.17,78.37 679.37,80.40 680.71,82.45 682.22,84.52 683.92,86.60 685.19,88.01 686.47,89.32 687.75,90.53 689.02,91.65 690.30,92.70 691.58,93.68 692.85,94.60 694.13,95.46 695.41,96.27 696.68,97.03 697.96,97.76 699.24,98.44 700.52,99.09 701.79,99.71 703.07,100.30 704.35,100.85 705.62,101.39 706.90,101.90 708.18,102.38 709.45,102.85 710.73,103.30 712.01,103.72 713.28,104.13 714.56,104.53 715.84,104.91 717.12,105.27 718.39,105.62 719.67,105.96 720.95,106.29 722.22,106.60 723.50,106.91 724.78,107.20 726.05,107.49 727.33,107.76 728.61,108.03 729.88,108.29 731.16,108.54 732.44,108.78 733.72,109.02 734.99,109.25 736.27,109.47 737.55,109.68 738.82,109.89 740.10,110.10 741.38,110.29 742.65,110.49 743.93,110.67 745.21,110.86 746.48,111.04 747.76,111.21 749.04,111.38 750.32,111.54 751.59,111.70 752.87,111.86 754.15,112.01 755.42,112.16 756.70,112.31 757.98,112.45 759.25,112.59 760.53,112.73 761.81,112.86 763.08,112.99 764.36,113.12 765.64,113.25 766.92,113.37 768.19,113.49 769.47,113.61 770.75,113.72 772.02,113.83 773.30,113.94 774.58,114.05 775.85,114.16 777.13,114.26 778.41,114.36 779.68,114.46 780.96,114.56 782.24,114.66 783.52,114.75 784.79,114.84 786.07,114.93 787.35,115.02 788.62,115.11 789.90,115.20 791.18,115.28 792.45,115.36 793.73,115.45 795.01,115.53 796.28,115.61 797.56,115.68 798.84,115.76 800.12,115.83 801.39,115.91 802.67,115.98 803.95,116.05 805.22,116.12 806.50,116.19 807.78,116.26 809.05,116.33 810.33,116.39 811.61,116.46 812.88,116.52 814.16,116.58 815.44,116.65 816.72,116.71 817.99,116.77 819.27,116.83 820.55,116.89 821.82,116.94 823.10,117.00" fill="none" stroke="#0000ff" stroke-width="2.3" stroke-linejoin="round" clip-path="url(#cpc)"/>
<polyline points="668.45,46.00 668.46,46.04 668.46,46.05 668.46,46.05 668.46,46.06 668.46,46.06 668.46,46.07 668.46,46.08 668.46,46.09 668.46,46.10 668.46,46.11 668.47,46.13 668.47,46.14 668.47,46.16 668.47,46.18 668.48,46.20 668.48,46.23 668.48,46.25 668.49,46.28 668.49,46.32 668.50,46.36 668.50,46.40 668.51,46.45 668.52,46.50 668.52,46.56 668.53,46.63 668.54,46.70 668.56,46.78 668.57,46.88 668.58,46.98 668.60,47.10 668.62,47.23 668.64,47.37 668.66,47.53 668.69,47.71 668.72,47.91 668.75,48.13 668.79,48.38 668.83,48.65 668.87,48.96 668.93,49.30 668.98,49.68 669.05,50.10 669.12,50.56 669.21,51.08 669.30,51.64 669.40,52.27 669.52,52.97 669.65,53.73 669.80,54.57 669.97,55.49 670.16,56.51 670.37,57.62 670.60,58.83 670.87,60.15 671.16,61.59 671.50,63.15 671.87,64.83 672.29,66.65 672.77,68.61 673.30,70.71 673.89,72.96 674.56,75.35 675.31,77.89 676.16,80.57 677.11,83.40 678.17,86.37 679.37,89.46 680.71,92.69 682.22,96.03 683.92,99.48 685.19,101.89 686.47,104.16 687.75,106.31 689.02,108.34 690.30,110.26 691.58,112.09 692.85,113.84 694.13,115.50 695.41,117.09 696.68,118.61 697.96,120.06 699.24,121.46 700.52,122.80 701.79,124.10 703.07,125.34 704.35,126.54 705.62,127.69 706.90,128.81 708.18,129.89 709.45,130.93 710.73,131.94 712.01,132.92 713.28,133.87 714.56,134.79 715.84,135.68 717.12,136.55 718.39,137.39 719.67,138.21 720.95,139.01 722.22,139.79 723.50,140.54 724.78,141.28 726.05,142.00 727.33,142.70 728.61,143.38 729.88,144.05 731.16,144.70 732.44,145.33 733.72,145.96 734.99,146.56 736.27,147.16 737.55,147.74 738.82,148.31 740.10,148.86 741.38,149.41 742.65,149.94 743.93,150.46 745.21,150.98 746.48,151.48 747.76,151.97 749.04,152.45 750.32,152.93 751.59,153.39 752.87,153.85 754.15,154.30 755.42,154.74 756.70,155.17 757.98,155.59 759.25,156.01 760.53,156.42 761.81,156.82 763.08,157.22 764.36,157.61 765.64,157.99 766.92,158.36 768.19,158.73 769.47,159.10 770.75,159.46 772.02,159.81 773.30,160.16 774.58,160.50 775.85,160.84 777.13,161.17 778.41,161.50 779.68,161.82 780.96,162.14 782.24,162.45 783.52,162.76 784.79,163.06 786.07,163.36 787.35,163.66 788.62,163.95 789.90,164.23 791.18,164.52 792.45,164.80 793.73,165.07 795.01,165.35 796.28,165.61 797.56,165.88 798.84,166.14 800.12,166.40 801.39,166.65 802.67,166.91 803.95,167.15 805.22,167.40 806.50,167.64 807.78,167.88 809.05,168.12 810.33,168.35 811.61,168.58 812.88,168.81 814.16,169.04 815.44,169.26 816.72,169.48 817.99,169.70 819.27,169.91 820.55,170.12 821.82,170.34 823.10,170.54" fill="none" stroke="#0000ff" stroke-width="2.3" stroke-linejoin="round" clip-path="url(#cpc)"/>
<polyline points="668.45,46.00 668.46,46.04 668.46,46.05 668.46,46.05 668.46,46.06 668.46,46.07 668.46,46.07 668.46,46.08 668.46,46.09 668.46,46.10 668.46,46.12 668.47,46.13 668.47,46.15 668.47,46.16 668.47,46.18 668.48,46.20 668.48,46.23 668.48,46.26 668.49,46.29 668.49,46.32 668.50,46.36 668.50,46.41 668.51,46.45 668.52,46.51 668.52,46.57 668.53,46.64 668.54,46.71 668.56,46.80 668.57,46.89 668.58,47.00 668.60,47.12 668.62,47.25 668.64,47.40 668.66,47.57 668.69,47.75 668.72,47.96 668.75,48.19 668.79,48.45 668.83,48.74 668.87,49.05 668.93,49.41 668.98,49.81 669.05,50.25 669.12,50.74 669.21,51.28 669.30,51.88 669.40,52.55 669.52,53.29 669.65,54.11 669.80,55.01 669.97,56.01 670.16,57.12 670.37,58.33 670.60,59.66 670.87,61.12 671.16,62.73 671.50,64.48 671.87,66.39 672.29,68.47 672.77,70.73 673.30,73.17 673.89,75.82 674.56,78.66 675.31,81.72 676.16,84.98 677.11,88.47 678.17,92.18 679.37,96.10 680.71,100.25 682.22,104.60 683.92,109.17 685.19,112.40 686.47,115.48 687.75,118.41 689.02,121.21 690.30,123.88 691.58,126.45 692.85,128.91 694.13,131.27 695.41,133.55 696.68,135.74 697.96,137.85 699.24,139.89 700.52,141.86 701.79,143.76 703.07,145.61 704.35,147.39 705.62,149.12 706.90,150.80 708.18,152.43 709.45,154.02 710.73,155.56 712.01,157.06 713.28,158.52 714.56,159.94 715.84,161.32 717.12,162.67 718.39,163.99 719.67,165.27 720.95,166.52 722.22,167.75 723.50,168.95 724.78,170.12 726.05,171.26 727.33,172.38 728.61,173.48 729.88,174.55 731.16,175.60 732.44,176.63 733.72,177.64 734.99,178.62 736.27,179.59 737.55,180.54 738.82,181.48 740.10,182.39 741.38,183.29 742.65,184.17 743.93,185.04 745.21,185.89 746.48,186.73 747.76,187.55 749.04,188.36 750.32,189.15 751.59,189.93 752.87,190.70 754.15,191.46 755.42,192.20 756.70,192.93 757.98,193.65 759.25,194.36 760.53,195.06 761.81,195.75 763.08,196.43 764.36,197.10 765.64,197.76 766.92,198.40 768.19,199.04 769.47,199.68 770.75,200.30 772.02,200.91 773.30,201.52 774.58,202.11 775.85,202.70 777.13,203.28 778.41,203.86 779.68,204.42 780.96,204.98 782.24,205.53 783.52,206.08 784.79,206.61 786.07,207.14 787.35,207.67 788.62,208.19 789.90,208.70 791.18,209.20 792.45,209.70 793.73,210.20 795.01,210.68 796.28,211.17 797.56,211.64 798.84,212.11 800.12,212.58 801.39,213.04 802.67,213.50 803.95,213.95 805.22,214.39 806.50,214.83 807.78,215.27 809.05,215.70 810.33,216.13 811.61,216.55 812.88,216.97 814.16,217.38 815.44,217.79 816.72,218.19 817.99,218.59 819.27,218.99 820.55,219.38 821.82,219.77 823.10,220.16" fill="none" stroke="#0000ff" stroke-width="2.3" stroke-linejoin="round" clip-path="url(#cpc)"/>
<polyline points="668.45,46.00 668.46,46.04 668.46,46.05 668.46,46.05 668.46,46.06 668.46,46.07 668.46,46.08 668.46,46.08 668.46,46.09 668.46,46.11 668.46,46.12 668.47,46.13 668.47,46.15 668.47,46.17 668.47,46.19 668.48,46.21 668.48,46.24 668.48,46.27 668.49,46.30 668.49,46.33 668.50,46.38 668.50,46.42 668.51,46.47 668.52,46.53 668.52,46.59 668.53,46.66 668.54,46.74 668.56,46.83 668.57,46.94 668.58,47.05 668.60,47.18 668.62,47.32 668.64,47.48 668.66,47.65 668.69,47.85 668.72,48.07 668.75,48.32 668.79,48.60 668.83,48.91 668.87,49.26 668.93,49.64 668.98,50.08 669.05,50.56 669.12,51.10 669.21,51.70 669.30,52.37 669.40,53.11 669.52,53.94 669.65,54.86 669.80,55.89 669.97,57.02 670.16,58.28 670.37,59.68 670.60,61.23 670.87,62.93 671.16,64.82 671.50,66.89 671.87,69.17 672.29,71.68 672.77,74.42 673.30,77.41 673.89,80.68 674.56,84.23 675.31,88.08 676.16,92.23 677.11,96.71 678.17,101.51 679.37,106.65 680.71,112.11 682.22,117.90 683.92,124.01 685.19,128.36 686.47,132.52 687.75,136.49 689.02,140.28 690.30,143.92 691.58,147.41 692.85,150.75 694.13,153.97 695.41,157.06 696.68,160.03 697.96,162.90 699.24,165.66 700.52,168.32 701.79,170.89 703.07,173.38 704.35,175.77 705.62,178.09 706.90,180.34 708.18,182.51 709.45,184.62 710.73,186.66 712.01,188.63 713.28,190.55 714.56,192.41 715.84,194.22 717.12,195.98 718.39,197.69 719.67,199.35 720.95,200.96 722.22,202.53 723.50,204.06 724.78,205.55 726.05,207.00 727.33,208.41 728.61,209.79 729.88,211.13 731.16,212.44 732.44,213.72 733.72,214.97 734.99,216.19 736.27,217.38 737.55,218.54 738.82,219.68 740.10,220.79 741.38,221.87 742.65,222.93 743.93,223.97 745.21,224.99 746.48,225.98 747.76,226.95 749.04,227.90 750.32,228.84 751.59,229.75 752.87,230.64 754.15,231.52 755.42,232.38 756.70,233.22 757.98,234.05 759.25,234.86 760.53,235.65 761.81,236.43 763.08,237.20 764.36,237.95 765.64,238.69 766.92,239.41 768.19,240.12 769.47,240.82 770.75,241.50 772.02,242.17 773.30,242.84 774.58,243.49 775.85,244.12 777.13,244.75 778.41,245.37 779.68,245.98 780.96,246.57 782.24,247.16 783.52,247.74 784.79,248.31 786.07,248.86 787.35,249.41 788.62,249.96 789.90,250.49 791.18,251.01 792.45,251.53 793.73,252.04 795.01,252.54 796.28,253.03 797.56,253.52 798.84,254.00 800.12,254.47 801.39,254.93 802.67,255.39 803.95,255.84 805.22,256.29 806.50,256.72 807.78,257.16 809.05,257.58 810.33,258.00 811.61,258.42 812.88,258.83 814.16,259.23 815.44,259.63 816.72,260.02 817.99,260.41 819.27,260.79 820.55,261.16 821.82,261.54 823.10,261.90" fill="none" stroke="#0000ff" stroke-width="2.3" stroke-linejoin="round" clip-path="url(#cpc)"/>
</g>
<g id="pd">
<path d="M887.57 433.50v-3.2M939.23 433.50v-3.2M835.90 356.00h3.2M835.90 278.50h3.2M835.90 201.00h3.2M835.90 123.50h3.2M835.90 414.12h2.2M835.90 394.75h2.2M835.90 375.38h2.2M835.90 336.62h2.2M835.90 317.25h2.2M835.90 297.88h2.2M835.90 259.12h2.2M835.90 239.75h2.2M835.90 220.37h2.2M835.90 181.62h2.2M835.90 162.25h2.2M835.90 142.88h2.2M835.90 104.12h2.2M835.90 84.75h2.2M835.90 65.38h2.2" stroke="#b0b0b0" stroke-width="0.8" fill="none"/>
<rect x="835.90" y="46.00" width="155.00" height="387.50" fill="none" stroke="#a6a6a6" stroke-width="1.1"/>
<clipPath id="cpd"><rect x="835.90" y="45.00" width="155.00" height="389.50"/></clipPath>
<polyline points="835.90,46.00 835.91,46.02 835.91,46.03 835.91,46.03 835.91,46.03 835.91,46.04 835.91,46.04 835.91,46.05 835.91,46.05 835.91,46.06 835.91,46.07 835.92,46.08 835.92,46.09 835.92,46.10 835.92,46.11 835.93,46.12 835.93,46.14 835.93,46.15 835.94,46.17 835.94,46.19 835.95,46.21 835.95,46.24 835.96,46.27 835.97,46.30 835.97,46.34 835.98,46.38 835.99,46.42 836.01,46.47 836.02,46.53 836.03,46.59 836.05,46.66 836.07,46.73 836.09,46.82 836.11,46.92 836.14,47.02 836.17,47.14 836.20,47.27 836.24,47.42 836.28,47.58 836.32,47.76 836.38,47.96 836.44,48.18 836.50,48.42 836.58,48.69 836.66,48.99 836.75,49.31 836.86,49.66 836.97,50.05 837.11,50.48 837.26,50.94 837.42,51.44 837.61,51.98 837.82,52.56 838.06,53.19 838.32,53.86 838.62,54.57 838.95,55.33 839.33,56.13 839.75,56.98 840.23,57.86 840.76,58.78 841.35,59.74 842.03,60.72 842.78,61.73 843.63,62.76 844.58,63.80 845.64,64.85 846.84,65.91 848.19,66.96 849.70,68.00 851.40,69.03 852.68,69.72 853.96,70.35 855.24,70.92 856.52,71.46 857.80,71.95 859.08,72.40 860.36,72.82 861.64,73.22 862.92,73.58 864.20,73.93 865.48,74.25 866.76,74.56 868.04,74.84 869.32,75.11 870.60,75.37 871.88,75.61 873.16,75.84 874.44,76.06 875.72,76.27 877.00,76.46 878.28,76.65 879.56,76.83 880.84,77.00 882.12,77.17 883.40,77.32 884.68,77.48 885.96,77.62 887.23,77.76 888.51,77.89 889.79,78.02 891.07,78.14 892.35,78.26 893.63,78.38 894.91,78.49 896.19,78.60 897.47,78.70 898.75,78.80 900.03,78.89 901.31,78.99 902.59,79.08 903.87,79.17 905.15,79.25 906.43,79.33 907.71,79.41 908.99,79.49 910.27,79.56 911.55,79.64 912.83,79.71 914.11,79.78 915.39,79.84 916.67,79.91 917.95,79.97 919.23,80.03 920.51,80.09 921.79,80.15 923.07,80.21 924.35,80.27 925.63,80.32 926.91,80.37 928.19,80.42 929.47,80.47 930.75,80.52 932.03,80.57 933.31,80.62 934.59,80.66 935.87,80.71 937.15,80.75 938.43,80.80 939.71,80.84 940.99,80.88 942.27,80.92 943.55,80.96 944.83,81.00 946.11,81.04 947.39,81.07 948.67,81.11 949.95,81.14 951.23,81.18 952.51,81.21 953.79,81.25 955.07,81.28 956.34,81.31 957.62,81.34 958.90,81.37 960.18,81.40 961.46,81.43 962.74,81.46 964.02,81.49 965.30,81.52 966.58,81.55 967.86,81.58 969.14,81.60 970.42,81.63 971.70,81.65 972.98,81.68 974.26,81.70 975.54,81.73 976.82,81.75 978.10,81.78 979.38,81.80 980.66,81.82 981.94,81.85 983.22,81.87 984.50,81.89 985.78,81.91 987.06,81.93 988.34,81.95 989.62,81.98 990.90,82.00" fill="none" stroke="#ff8000" stroke-width="2.3" stroke-linejoin="round" clip-path="url(#cpd)"/>
<polyline points="835.90,46.00 835.91,46.02 835.91,46.03 835.91,46.03 835.91,46.03 835.91,46.04 835.91,46.04 835.91,46.05 835.91,46.06 835.91,46.06 835.91,46.07 835.92,46.08 835.92,46.09 835.92,46.10 835.92,46.11 835.93,46.12 835.93,46.14 835.93,46.15 835.94,46.17 835.94,46.19 835.95,46.22 835.95,46.24 835.96,46.27 835.97,46.31 835.97,46.34 835.98,46.38 835.99,46.43 836.01,46.48 836.02,46.54 836.03,46.60 836.05,46.67 836.07,46.75 836.09,46.84 836.11,46.94 836.14,47.05 836.17,47.18 836.20,47.31 836.24,47.47 836.28,47.64 836.32,47.83 836.38,48.04 836.44,48.28 836.50,48.54 836.58,48.83 836.66,49.15 836.75,49.50 836.86,49.90 836.97,50.33 837.11,50.81 837.26,51.33 837.42,51.91 837.61,52.54 837.82,53.23 838.06,53.98 838.32,54.80 838.62,55.69 838.95,56.65 839.33,57.69 839.75,58.80 840.23,60.00 840.76,61.27 841.35,62.63 842.03,64.06 842.78,65.57 843.63,67.16 844.58,68.82 845.64,70.54 846.84,72.33 848.19,74.17 849.70,76.06 851.40,77.99 852.68,79.33 853.96,80.58 855.24,81.75 856.52,82.85 857.80,83.89 859.08,84.87 860.36,85.80 861.64,86.68 862.92,87.51 864.20,88.31 865.48,89.07 866.76,89.79 868.04,90.48 869.32,91.14 870.60,91.77 871.88,92.38 873.16,92.96 874.44,93.52 875.72,94.06 877.00,94.58 878.28,95.08 879.56,95.56 880.84,96.02 882.12,96.47 883.40,96.91 884.68,97.33 885.96,97.73 887.23,98.13 888.51,98.51 889.79,98.88 891.07,99.23 892.35,99.58 893.63,99.92 894.91,100.25 896.19,100.57 897.47,100.88 898.75,101.18 900.03,101.48 901.31,101.76 902.59,102.04 903.87,102.31 905.15,102.58 906.43,102.84 907.71,103.09 908.99,103.33 910.27,103.57 911.55,103.81 912.83,104.04 914.11,104.26 915.39,104.48 916.67,104.70 917.95,104.90 919.23,105.11 920.51,105.31 921.79,105.51 923.07,105.70 924.35,105.89 925.63,106.07 926.91,106.25 928.19,106.43 929.47,106.60 930.75,106.77 932.03,106.94 933.31,107.10 934.59,107.26 935.87,107.42 937.15,107.58 938.43,107.73 939.71,107.88 940.99,108.02 942.27,108.17 943.55,108.31 944.83,108.45 946.11,108.58 947.39,108.72 948.67,108.85 949.95,108.98 951.23,109.11 952.51,109.23 953.79,109.35 955.07,109.47 956.34,109.59 957.62,109.71 958.90,109.83 960.18,109.94 961.46,110.05 962.74,110.16 964.02,110.27 965.30,110.38 966.58,110.48 967.86,110.59 969.14,110.69 970.42,110.79 971.70,110.89 972.98,110.99 974.26,111.08 975.54,111.18 976.82,111.27 978.10,111.36 979.38,111.45 980.66,111.54 981.94,111.63 983.22,111.72 984.50,111.81 985.78,111.89 987.06,111.98 988.34,112.06 989.62,112.14 990.90,112.22" fill="none" stroke="#ff8000" stroke-width="2.3" stroke-linejoin="round" clip-path="url(#cpd)"/>
<polyline points="835.90,46.00 835.91,46.02 835.91,46.03 835.91,46.03 835.91,46.04 835.91,46.04 835.91,46.04 835.91,46.05 835.91,46.06 835.91,46.06 835.91,46.07 835.92,46.08 835.92,46.09 835.92,46.10 835.92,46.11 835.93,46.12 835.93,46.14 835.93,46.16 835.94,46.17 835.94,46.20 835.95,46.22 835.95,46.25 835.96,46.28 835.97,46.31 835.97,46.35 835.98,46.39 835.99,46.44 836.01,46.49 836.02,46.55 836.03,46.61 836.05,46.68 836.07,46.77 836.09,46.86 836.11,46.96 836.14,47.07 836.17,47.20 836.20,47.35 836.24,47.50 836.28,47.68 836.32,47.88 836.38,48.10 836.44,48.35 836.50,48.62 836.58,48.93 836.66,49.26 836.75,49.64 836.86,50.06 836.97,50.52 837.11,51.03 837.26,51.60 837.42,52.22 837.61,52.91 837.82,53.67 838.06,54.51 838.32,55.43 838.62,56.43 838.95,57.53 839.33,58.73 839.75,60.04 840.23,61.45 840.76,62.98 841.35,64.63 842.03,66.41 842.78,68.31 843.63,70.35 844.58,72.51 845.64,74.81 846.84,77.23 848.19,79.78 849.70,82.45 851.40,85.24 852.68,87.21 853.96,89.08 855.24,90.86 856.52,92.55 857.80,94.17 859.08,95.71 860.36,97.19 861.64,98.61 862.92,99.97 864.20,101.28 865.48,102.55 866.76,103.76 868.04,104.93 869.32,106.07 870.60,107.16 871.88,108.22 873.16,109.25 874.44,110.24 875.72,111.21 877.00,112.14 878.28,113.05 879.56,113.93 880.84,114.79 882.12,115.62 883.40,116.44 884.68,117.23 885.96,118.00 887.23,118.75 888.51,119.49 889.79,120.20 891.07,120.90 892.35,121.59 893.63,122.25 894.91,122.91 896.19,123.54 897.47,124.17 898.75,124.78 900.03,125.38 901.31,125.96 902.59,126.54 903.87,127.10 905.15,127.65 906.43,128.19 907.71,128.72 908.99,129.24 910.27,129.75 911.55,130.25 912.83,130.75 914.11,131.23 915.39,131.70 916.67,132.17 917.95,132.63 919.23,133.08 920.51,133.52 921.79,133.96 923.07,134.39 924.35,134.81 925.63,135.22 926.91,135.63 928.19,136.03 929.47,136.43 930.75,136.82 932.03,137.20 933.31,137.58 934.59,137.96 935.87,138.32 937.15,138.68 938.43,139.04 939.71,139.39 940.99,139.74 942.27,140.08 943.55,140.42 944.83,140.75 946.11,141.08 947.39,141.40 948.67,141.72 949.95,142.04 951.23,142.35 952.51,142.66 953.79,142.96 955.07,143.26 956.34,143.56 957.62,143.85 958.90,144.14 960.18,144.42 961.46,144.70 962.74,144.98 964.02,145.26 965.30,145.53 966.58,145.80 967.86,146.06 969.14,146.33 970.42,146.59 971.70,146.84 972.98,147.10 974.26,147.35 975.54,147.60 976.82,147.84 978.10,148.08 979.38,148.33 980.66,148.56 981.94,148.80 983.22,149.03 984.50,149.26 985.78,149.49 987.06,149.72 988.34,149.94 989.62,150.16 990.90,150.38" fill="none" stroke="#ff8000" stroke-width="2.3" stroke-linejoin="round" clip-path="url(#cpd)"/>
<polyline points="835.90,46.00 835.91,46.02 835.91,46.03 835.91,46.03 835.91,46.04 835.91,46.04 835.91,46.04 835.91,46.05 835.91,46.06 835.91,46.06 835.91,46.07 835.92,46.08 835.92,46.09 835.92,46.10 835.92,46.11 835.93,46.13 835.93,46.14 835.93,46.16 835.94,46.18 835.94,46.20 835.95,46.22 835.95,46.25 835.96,46.28 835.97,46.31 835.97,46.35 835.98,46.39 835.99,46.44 836.01,46.49 836.02,46.55 836.03,46.62 836.05,46.69 836.07,46.78 836.09,46.87 836.11,46.98 836.14,47.09 836.17,47.22 836.20,47.37 836.24,47.53 836.28,47.71 836.32,47.92 836.38,48.14 836.44,48.40 836.50,48.68 836.58,49.00 836.66,49.35 836.75,49.74 836.86,50.17 836.97,50.65 837.11,51.19 837.26,51.78 837.42,52.44 837.61,53.17 837.82,53.98 838.06,54.87 838.32,55.85 838.62,56.93 838.95,58.12 839.33,59.43 839.75,60.85 840.23,62.41 840.76,64.11 841.35,65.95 842.03,67.95 842.78,70.12 843.63,72.44 844.58,74.95 845.64,77.62 846.84,80.48 848.19,83.51 849.70,86.73 851.40,90.12 852.68,92.53 853.96,94.84 855.24,97.04 856.52,99.16 857.80,101.19 859.08,103.14 860.36,105.01 861.64,106.82 862.92,108.56 864.20,110.24 865.48,111.86 866.76,113.43 868.04,114.95 869.32,116.42 870.60,117.85 871.88,119.23 873.16,120.57 874.44,121.88 875.72,123.14 877.00,124.37 878.28,125.57 879.56,126.74 880.84,127.88 882.12,128.98 883.40,130.06 884.68,131.12 885.96,132.14 887.23,133.15 888.51,134.13 889.79,135.09 891.07,136.02 892.35,136.94 893.63,137.83 894.91,138.71 896.19,139.57 897.47,140.40 898.75,141.23 900.03,142.03 901.31,142.82 902.59,143.60 903.87,144.35 905.15,145.10 906.43,145.83 907.71,146.55 908.99,147.25 910.27,147.94 911.55,148.62 912.83,149.28 914.11,149.94 915.39,150.58 916.67,151.21 917.95,151.83 919.23,152.44 920.51,153.05 921.79,153.64 923.07,154.22 924.35,154.79 925.63,155.35 926.91,155.91 928.19,156.45 929.47,156.99 930.75,157.52 932.03,158.04 933.31,158.55 934.59,159.06 935.87,159.56 937.15,160.05 938.43,160.53 939.71,161.01 940.99,161.48 942.27,161.95 943.55,162.40 944.83,162.86 946.11,163.30 947.39,163.74 948.67,164.17 949.95,164.60 951.23,165.02 952.51,165.44 953.79,165.85 955.07,166.26 956.34,166.66 957.62,167.06 958.90,167.45 960.18,167.83 961.46,168.21 962.74,168.59 964.02,168.96 965.30,169.33 966.58,169.70 967.86,170.06 969.14,170.41 970.42,170.76 971.70,171.11 972.98,171.45 974.26,171.79 975.54,172.13 976.82,172.46 978.10,172.79 979.38,173.11 980.66,173.43 981.94,173.75 983.22,174.06 984.50,174.37 985.78,174.68 987.06,174.98 988.34,175.28 989.62,175.58 990.90,175.88" fill="none" stroke="#ff8000" stroke-width="2.3" stroke-linejoin="round" clip-path="url(#cpd)"/>
<polyline points="835.90,46.00 835.91,46.03 835.91,46.03 835.91,46.03 835.91,46.04 835.91,46.04 835.91,46.05 835.91,46.05 835.91,46.06 835.91,46.06 835.91,46.07 835.92,46.08 835.92,46.09 835.92,46.10 835.92,46.11 835.93,46.13 835.93,46.14 835.93,46.16 835.94,46.18 835.94,46.20 835.95,46.23 835.95,46.25 835.96,46.29 835.97,46.32 835.97,46.36 835.98,46.40 835.99,46.45 836.01,46.51 836.02,46.57 836.03,46.64 836.05,46.71 836.07,46.80 836.09,46.90 836.11,47.01 836.14,47.13 836.17,47.27 836.20,47.42 836.24,47.59 836.28,47.78 836.32,48.00 836.38,48.23 836.44,48.50 836.50,48.80 836.58,49.14 836.66,49.51 836.75,49.93 836.86,50.39 836.97,50.91 837.11,51.49 837.26,52.13 837.42,52.85 837.61,53.64 837.82,54.53 838.06,55.51 838.32,56.59 838.62,57.79 838.95,59.12 839.33,60.58 839.75,62.19 840.23,63.96 840.76,65.90 841.35,68.02 842.03,70.34 842.78,72.86 843.63,75.60 844.58,78.55 845.64,81.74 846.84,85.16 848.19,88.83 849.70,92.72 851.40,96.86 852.68,99.82 853.96,102.65 855.24,105.37 856.52,107.98 857.80,110.48 859.08,112.89 860.36,115.21 861.64,117.44 862.92,119.59 864.20,121.66 865.48,123.67 866.76,125.60 868.04,127.47 869.32,129.28 870.60,131.03 871.88,132.72 873.16,134.37 874.44,135.96 875.72,137.50 877.00,139.00 878.28,140.45 879.56,141.86 880.84,143.23 882.12,144.56 883.40,145.86 884.68,147.12 885.96,148.35 887.23,149.54 888.51,150.70 889.79,151.84 891.07,152.94 892.35,154.02 893.63,155.07 894.91,156.09 896.19,157.09 897.47,158.07 898.75,159.02 900.03,159.95 901.31,160.86 902.59,161.75 903.87,162.62 905.15,163.47 906.43,164.30 907.71,165.11 908.99,165.91 910.27,166.69 911.55,167.45 912.83,168.19 914.11,168.93 915.39,169.64 916.67,170.34 917.95,171.03 919.23,171.71 920.51,172.37 921.79,173.01 923.07,173.65 924.35,174.27 925.63,174.89 926.91,175.49 928.19,176.08 929.47,176.65 930.75,177.22 932.03,177.78 933.31,178.33 934.59,178.87 935.87,179.40 937.15,179.92 938.43,180.43 939.71,180.93 940.99,181.42 942.27,181.91 943.55,182.39 944.83,182.86 946.11,183.32 947.39,183.77 948.67,184.22 949.95,184.66 951.23,185.09 952.51,185.52 953.79,185.94 955.07,186.35 956.34,186.76 957.62,187.16 958.90,187.56 960.18,187.95 961.46,188.33 962.74,188.71 964.02,189.08 965.30,189.45 966.58,189.81 967.86,190.16 969.14,190.51 970.42,190.86 971.70,191.20 972.98,191.54 974.26,191.87 975.54,192.20 976.82,192.52 978.10,192.84 979.38,193.15 980.66,193.46 981.94,193.77 983.22,194.07 984.50,194.37 985.78,194.66 987.06,194.95 988.34,195.24 989.62,195.52 990.90,195.80" fill="none" stroke="#ff8000" stroke-width="2.3" stroke-linejoin="round" clip-path="url(#cpd)"/>
</g>
<g id="titles" stroke="#000" stroke-width="0.3">
<text transform="translate(236.78,27.60) scale(1.000,1)" font-family="'Liberation Sans',sans-serif" font-size="34.00" font-weight="normal" font-style="normal" fill="#000">(a)</text>
<text transform="translate(553.76,24.60) scale(1.005,1)" font-family="'Liberation Sans',sans-serif" font-size="34.00" font-weight="normal" font-style="normal" fill="#000">(b)</text>
<text transform="translate(729.79,26.30) scale(0.993,1)" font-family="'Liberation Sans',sans-serif" font-size="34.00" font-weight="normal" font-style="normal" fill="#000">(c)</text>
<text transform="translate(893.53,26.10) scale(0.976,1)" font-family="'Liberation Sans',sans-serif" font-size="34.00" font-weight="normal" font-style="normal" fill="#000">(d)</text>
</g>
<g id="ticklabels">
<text transform="translate(30.29,442.62) scale(0.980,1)" font-family="'Liberation Serif',serif" font-size="25.00" font-weight="bold" font-style="normal" fill="#646464">0.0</text>
<text transform="translate(467.27,442.11) scale(1.030,1)" font-family="'Liberation Serif',serif" font-size="22.20" font-weight="bold" font-style="normal" fill="#646464">0.0</text>
<text transform="translate(30.42,364.86) scale(0.980,1)" font-family="'Liberation Serif',serif" font-size="25.00" font-weight="bold" font-style="normal" fill="#646464">0.2</text>
<text transform="translate(467.39,364.46) scale(1.030,1)" font-family="'Liberation Serif',serif" font-size="22.20" font-weight="bold" font-style="normal" fill="#646464">0.2</text>
<text transform="translate(29.80,287.09) scale(0.980,1)" font-family="'Liberation Serif',serif" font-size="25.00" font-weight="bold" font-style="normal" fill="#646464">0.4</text>
<text transform="translate(466.82,286.81) scale(1.030,1)" font-family="'Liberation Serif',serif" font-size="22.20" font-weight="bold" font-style="normal" fill="#646464">0.4</text>
<text transform="translate(30.11,209.31) scale(0.980,1)" font-family="'Liberation Serif',serif" font-size="25.00" font-weight="bold" font-style="normal" fill="#646464">0.6</text>
<text transform="translate(467.10,209.16) scale(1.030,1)" font-family="'Liberation Serif',serif" font-size="22.20" font-weight="bold" font-style="normal" fill="#646464">0.6</text>
<text transform="translate(30.17,131.54) scale(0.980,1)" font-family="'Liberation Serif',serif" font-size="25.00" font-weight="bold" font-style="normal" fill="#646464">0.8</text>
<text transform="translate(467.16,131.51) scale(1.030,1)" font-family="'Liberation Serif',serif" font-size="22.20" font-weight="bold" font-style="normal" fill="#646464">0.8</text>
<text transform="translate(30.29,53.78) scale(0.980,1)" font-family="'Liberation Serif',serif" font-size="25.00" font-weight="bold" font-style="normal" fill="#646464">1.0</text>
<text transform="translate(467.27,53.86) scale(1.030,1)" font-family="'Liberation Serif',serif" font-size="22.20" font-weight="bold" font-style="normal" fill="#646464">1.0</text>
<text transform="translate(59.01,460.90) scale(1.030,1)" font-family="'Liberation Serif',serif" font-size="25.00" font-weight="bold" font-style="normal" fill="#646464">0</text>
<text transform="translate(136.55,460.90) scale(1.030,1)" font-family="'Liberation Serif',serif" font-size="25.00" font-weight="bold" font-style="normal" fill="#646464">2</text>
<text transform="translate(214.16,460.90) scale(1.030,1)" font-family="'Liberation Serif',serif" font-size="25.00" font-weight="bold" font-style="normal" fill="#646464">4</text>
<text transform="translate(291.57,460.90) scale(1.030,1)" font-family="'Liberation Serif',serif" font-size="25.00" font-weight="bold" font-style="normal" fill="#646464">6</text>
<text transform="translate(369.17,460.90) scale(1.030,1)" font-family="'Liberation Serif',serif" font-size="25.00" font-weight="bold" font-style="normal" fill="#646464">8</text>
<text transform="translate(439.73,460.90) scale(1.030,1)" font-family="'Liberation Serif',serif" font-size="25.00" font-weight="bold" font-style="normal" fill="#646464">10</text>
<text transform="translate(492.68,457.20) scale(1.030,1)" font-family="'Liberation Serif',serif" font-size="22.20" font-weight="bold" font-style="normal" fill="#646464">0</text>
<text transform="translate(544.07,457.20) scale(1.030,1)" font-family="'Liberation Serif',serif" font-size="22.20" font-weight="bold" font-style="normal" fill="#646464">1</text>
<text transform="translate(596.08,457.20) scale(1.030,1)" font-family="'Liberation Serif',serif" font-size="22.20" font-weight="bold" font-style="normal" fill="#646464">2</text>
<text transform="translate(647.75,457.20) scale(1.030,1)" font-family="'Liberation Serif',serif" font-size="22.20" font-weight="bold" font-style="normal" fill="#646464">3</text>
<text transform="translate(662.23,457.20) scale(1.030,1)" font-family="'Liberation Serif',serif" font-size="22.20" font-weight="bold" font-style="normal" fill="#646464">0</text>
<text transform="translate(713.47,457.20) scale(1.030,1)" font-family="'Liberation Serif',serif" font-size="22.20" font-weight="bold" font-style="normal" fill="#646464">1</text>
<text transform="translate(765.33,457.20) scale(1.030,1)" font-family="'Liberation Serif',serif" font-size="22.20" font-weight="bold" font-style="normal" fill="#646464">2</text>
<text transform="translate(816.85,457.20) scale(1.030,1)" font-family="'Liberation Serif',serif" font-size="22.20" font-weight="bold" font-style="normal" fill="#646464">3</text>
<text transform="translate(829.68,457.20) scale(1.030,1)" font-family="'Liberation Serif',serif" font-size="22.20" font-weight="bold" font-style="normal" fill="#646464">0</text>
<text transform="translate(881.04,457.20) scale(1.030,1)" font-family="'Liberation Serif',serif" font-size="22.20" font-weight="bold" font-style="normal" fill="#646464">1</text>
<text transform="translate(933.02,457.20) scale(1.030,1)" font-family="'Liberation Serif',serif" font-size="22.20" font-weight="bold" font-style="normal" fill="#646464">2</text>
<text transform="translate(984.65,457.20) scale(1.030,1)" font-family="'Liberation Serif',serif" font-size="22.20" font-weight="bold" font-style="normal" fill="#646464">3</text>
</g>
<g id="axislabels">
<text stroke="#646464" stroke-width="0.55" transform="translate(252.34,495.57) scale(1.361,1)" font-family="'Liberation Serif',serif" font-size="21.80" font-weight="normal" font-style="italic" fill="#646464">β</text>
<text stroke="#646464" stroke-width="0.35" transform="translate(569.57,488.89) scale(1.143,1)" font-family="'Liberation Serif',serif" font-size="21.35" font-weight="normal" font-style="italic" fill="#646464">α</text>
<text stroke="#646464" stroke-width="0.35" transform="translate(738.92,488.89) scale(1.143,1)" font-family="'Liberation Serif',serif" font-size="21.35" font-weight="normal" font-style="italic" fill="#646464">α</text>
<text stroke="#646464" stroke-width="0.35" transform="translate(906.67,488.89) scale(1.143,1)" font-family="'Liberation Serif',serif" font-size="21.35" font-weight="normal" font-style="italic" fill="#646464">α</text>
<g id="ylabel" transform="translate(17.1,270.3) rotate(-90)">
<text x="-1.4" y="0" font-family="'Liberation Serif',serif" font-size="24" fill="#646464" font-weight="bold" font-style="italic">T<tspan font-size="16" dy="3.8" dx="0.3">c</tspan><tspan dy="-3.8" dx="1.6" font-style="normal">/</tspan><tspan dx="0.2">T</tspan><tspan font-size="16.5" dy="3.8" dx="0.8" font-style="normal">c1</tspan></text>
</g>
</g>
<g id="la_red" transform="translate(133.50,86.50) rotate(-5.2)" stroke="#ff0000" stroke-width="0.15">
<text transform="translate(-1.51,0.00) scale(1.066,1)" font-family="'Liberation Serif',serif" font-size="21.83" font-weight="normal" font-style="italic" fill="#ff0000">T</text>
<text transform="translate(11.43,4.74) scale(1.177,1)" font-family="'Liberation Serif',serif" font-size="16.04" font-weight="normal" font-style="italic" fill="#ff0000">c</text>
<text transform="translate(19.58,4.80) scale(1.178,1)" font-family="'Liberation Serif',serif" font-size="14.34" font-weight="normal" font-style="normal" fill="#ff0000">2</text>
<text transform="translate(28.60,4.98) skewX(-8.75)" font-family="'Liberation Serif',serif" font-size="31.79" font-weight="normal" font-style="normal" fill="#ff0000">/</text>
<text transform="translate(39.19,0.00) scale(1.066,1)" font-family="'Liberation Serif',serif" font-size="21.83" font-weight="normal" font-style="italic" fill="#ff0000">T</text>
<text transform="translate(52.64,4.74) scale(1.162,1)" font-family="'Liberation Serif',serif" font-size="16.04" font-weight="normal" font-style="italic" fill="#ff0000">c</text>
<text transform="translate(59.69,4.80) scale(1.281,1)" font-family="'Liberation Serif',serif" font-size="14.39" font-weight="normal" font-style="normal" fill="#ff0000">1</text>
<text transform="translate(74.65,3.14) scale(1.067,1)" font-family="'Liberation Serif',serif" font-size="27.20" font-weight="normal" font-style="normal" fill="#ff0000">=</text>
<text transform="translate(96.55,-0.12) scale(1.061,1)" font-family="'Liberation Serif',serif" font-size="21.32" font-weight="normal" font-style="normal" fill="#ff0000">0.7</text>
</g>
<g id="la_or" transform="translate(124.20,122.80) rotate(-19.5)" stroke="#ff6c0a" stroke-width="0.15">
<text transform="translate(-0.85,-0.11) scale(1.082,1)" font-family="'Liberation Serif',serif" font-size="20.88" font-weight="normal" font-style="normal" fill="#ff6c0a">0.5</text>
</g>
<g id="la_bl" transform="translate(110.00,152.50) rotate(-30)" stroke="#0000ff" stroke-width="0.15">
<text transform="translate(-0.85,-0.11) scale(1.082,1)" font-family="'Liberation Serif',serif" font-size="20.88" font-weight="normal" font-style="normal" fill="#0000ff">0.3</text>
</g>
<g id="la_pu" transform="translate(103.00,191.20) rotate(-45)" stroke="#800080" stroke-width="0.15">
<text transform="translate(-0.86,-0.11) scale(1.101,1)" font-family="'Liberation Serif',serif" font-size="20.88" font-weight="normal" font-style="normal" fill="#800080">0.1</text>
</g>
<g id="la_bk" transform="translate(87.00,284.50) rotate(-70)" stroke="#000" stroke-width="0.15">
<text transform="translate(-0.90,-0.11) scale(1.155,1)" font-family="'Liberation Serif',serif" font-size="20.88" font-weight="normal" font-style="normal" fill="#000">0.0001</text>
</g>
<g id="alpha1" stroke="#000" stroke-width="0.3">
<text transform="translate(352.19,414.03) scale(1.114,1)" font-family="'Liberation Serif',serif" font-size="27.15" font-weight="normal" font-style="italic" fill="#000">α</text>
<text transform="translate(378.06,416.21) scale(1.273,1)" font-family="'Liberation Serif',serif" font-size="30.40" font-weight="normal" font-style="normal" fill="#000">=</text>
<text transform="translate(407.32,414.30) scale(1.170,1)" font-family="'Liberation Serif',serif" font-size="29.09" font-weight="normal" font-style="normal" fill="#000">1</text>
</g>
<g id="lb_beta" stroke="#000" stroke-width="0.15">
<text transform="translate(587.01,75.94) scale(0.954,1)" font-family="'Liberation Serif',serif" font-size="21.47" font-weight="normal" font-style="italic" fill="#000">β</text>
<text transform="translate(605.59,78.33) scale(1.195,1)" font-family="'Liberation Serif',serif" font-size="25.20" font-weight="normal" font-style="normal" fill="#000">=</text>
<text transform="translate(628.12,75.79) scale(1.259,1)" font-family="'Liberation Serif',serif" font-size="20.74" font-weight="normal" font-style="normal" fill="#000">8</text>
</g>
<g id="lb_nums" stroke="#000" stroke-width="0.15">
<text transform="translate(628.10,117.50) scale(1.163,1)" font-family="'Liberation Serif',serif" font-size="21.44" font-weight="normal" font-style="normal" fill="#000">4</text>
<text transform="translate(628.30,189.10) scale(1.049,1)" font-family="'Liberation Serif',serif" font-size="22.49" font-weight="normal" font-style="normal" fill="#000">2</text>
<text transform="translate(627.84,302.70) scale(1.136,1)" font-family="'Liberation Serif',serif" font-size="22.73" font-weight="normal" font-style="normal" fill="#000">1</text>
<text transform="translate(618.61,374.20) scale(1.190,1)" font-family="'Liberation Serif',serif" font-size="20.00" font-weight="normal" font-style="normal" fill="#000">0.5</text>
<text transform="translate(618.59,416.58) scale(1.120,1)" font-family="'Liberation Serif',serif" font-size="21.62" font-weight="normal" font-style="normal" fill="#000">0.1</text>
</g>
<g id="lb_T" transform="translate(507.90,407.70) rotate(0)" stroke="#000" stroke-width="0.15">
<text transform="translate(-1.33,0.00) scale(1.100,1)" font-family="'Liberation Serif',serif" font-size="18.62" font-weight="normal" font-style="italic" fill="#000">T</text>
<text transform="translate(10.06,4.04) scale(1.214,1)" font-family="'Liberation Serif',serif" font-size="13.68" font-weight="normal" font-style="italic" fill="#000">c</text>
<text transform="translate(17.23,4.09) scale(1.215,1)" font-family="'Liberation Serif',serif" font-size="12.23" font-weight="normal" font-style="normal" fill="#000">2</text>
<text transform="translate(25.17,4.25) skewX(-9.75)" font-family="'Liberation Serif',serif" font-size="27.12" font-weight="normal" font-style="normal" fill="#000">/</text>
<text transform="translate(34.48,0.00) scale(1.100,1)" font-family="'Liberation Serif',serif" font-size="18.62" font-weight="normal" font-style="italic" fill="#000">T</text>
<text transform="translate(46.32,4.04) scale(1.198,1)" font-family="'Liberation Serif',serif" font-size="13.68" font-weight="normal" font-style="italic" fill="#000">c</text>
<text transform="translate(52.52,4.09) scale(1.322,1)" font-family="'Liberation Serif',serif" font-size="12.28" font-weight="normal" font-style="normal" fill="#000">1</text>
</g>
<g id="lb_eq" stroke="#000" stroke-width="0.15">
<text transform="translate(499.58,432.22) scale(1.168,1)" font-family="'Liberation Serif',serif" font-size="20.80" font-weight="normal" font-style="normal" fill="#000">=</text>
<text transform="translate(520.33,429.83) scale(1.153,1)" font-family="'Liberation Serif',serif" font-size="17.79" font-weight="normal" font-style="normal" fill="#000">0.0001</text>
</g>
<g id="lc_beta" stroke="#0000ff" stroke-width="0.15">
<text transform="translate(763.03,75.64) scale(1.018,1)" font-family="'Liberation Serif',serif" font-size="21.47" font-weight="normal" font-style="italic" fill="#0000ff">β</text>
<text transform="translate(781.55,78.03) scale(1.229,1)" font-family="'Liberation Serif',serif" font-size="25.20" font-weight="normal" font-style="normal" fill="#0000ff">=</text>
<text transform="translate(804.06,75.48) scale(1.141,1)" font-family="'Liberation Serif',serif" font-size="22.07" font-weight="normal" font-style="normal" fill="#0000ff">8</text>
</g>
<g id="lc_nums" stroke="#0000ff" stroke-width="0.15">
<text transform="translate(803.71,114.70) scale(1.121,1)" font-family="'Liberation Serif',serif" font-size="22.05" font-weight="normal" font-style="normal" fill="#0000ff">4</text>
<text transform="translate(803.62,164.80) scale(1.134,1)" font-family="'Liberation Serif',serif" font-size="22.34" font-weight="normal" font-style="normal" fill="#0000ff">2</text>
<text transform="translate(803.04,211.90) scale(1.227,1)" font-family="'Liberation Serif',serif" font-size="21.97" font-weight="normal" font-style="normal" fill="#0000ff">1</text>
<text transform="translate(794.24,248.68) scale(1.063,1)" font-family="'Liberation Serif',serif" font-size="21.47" font-weight="normal" font-style="normal" fill="#0000ff">0.1</text>
</g>
<g id="lc_T" transform="translate(683.30,422.10) rotate(0)" stroke="#0000ff" stroke-width="0.15">
<text transform="translate(-1.51,0.00) scale(1.066,1)" font-family="'Liberation Serif',serif" font-size="21.83" font-weight="normal" font-style="italic" fill="#0000ff">T</text>
<text transform="translate(11.43,4.74) scale(1.177,1)" font-family="'Liberation Serif',serif" font-size="16.04" font-weight="normal" font-style="italic" fill="#0000ff">c</text>
<text transform="translate(19.58,4.80) scale(1.178,1)" font-family="'Liberation Serif',serif" font-size="14.34" font-weight="normal" font-style="normal" fill="#0000ff">2</text>
<text transform="translate(28.60,4.98) skewX(-8.75)" font-family="'Liberation Serif',serif" font-size="31.79" font-weight="normal" font-style="normal" fill="#0000ff">/</text>
<text transform="translate(39.19,0.00) scale(1.066,1)" font-family="'Liberation Serif',serif" font-size="21.83" font-weight="normal" font-style="italic" fill="#0000ff">T</text>
<text transform="translate(52.64,4.74) scale(1.162,1)" font-family="'Liberation Serif',serif" font-size="16.04" font-weight="normal" font-style="italic" fill="#0000ff">c</text>
<text transform="translate(59.69,4.80) scale(1.281,1)" font-family="'Liberation Serif',serif" font-size="14.39" font-weight="normal" font-style="normal" fill="#0000ff">1</text>
<text transform="translate(74.65,3.14) scale(1.067,1)" font-family="'Liberation Serif',serif" font-size="27.20" font-weight="normal" font-style="normal" fill="#0000ff">=</text>
<text transform="translate(96.54,-0.12) scale(1.072,1)" font-family="'Liberation Serif',serif" font-size="21.32" font-weight="normal" font-style="normal" fill="#0000ff">0.3</text>
</g>
<g id="ld_beta" stroke="#ee7428" stroke-width="0.15">
<text transform="translate(933.01,75.64) scale(0.972,1)" font-family="'Liberation Serif',serif" font-size="21.47" font-weight="normal" font-style="italic" fill="#ee7428">β</text>
<text transform="translate(951.13,78.03) scale(1.246,1)" font-family="'Liberation Serif',serif" font-size="25.20" font-weight="normal" font-style="normal" fill="#ee7428">=</text>
<text transform="translate(974.06,75.47) scale(1.100,1)" font-family="'Liberation Serif',serif" font-size="22.67" font-weight="normal" font-style="normal" fill="#ee7428">8</text>
</g>
<g id="ld_nums" stroke="#ee7428" stroke-width="0.15">
<text transform="translate(973.69,107.90) scale(1.193,1)" font-family="'Liberation Serif',serif" font-size="21.44" font-weight="normal" font-style="normal" fill="#ee7428">4</text>
<text transform="translate(973.61,143.70) scale(1.161,1)" font-family="'Liberation Serif',serif" font-size="22.04" font-weight="normal" font-style="normal" fill="#ee7428">2</text>
<text transform="translate(973.02,168.80) scale(1.293,1)" font-family="'Liberation Serif',serif" font-size="21.06" font-weight="normal" font-style="normal" fill="#ee7428">1</text>
<text transform="translate(964.34,213.18) scale(1.063,1)" font-family="'Liberation Serif',serif" font-size="21.47" font-weight="normal" font-style="normal" fill="#ee7428">0.1</text>
</g>
<g id="ld_T" transform="translate(857.80,422.30) rotate(0)" stroke="#ee7428" stroke-width="0.15">
<text transform="translate(-1.51,0.00) scale(1.066,1)" font-family="'Liberation Serif',serif" font-size="21.83" font-weight="normal" font-style="italic" fill="#ee7428">T</text>
<text transform="translate(11.43,4.74) scale(1.177,1)" font-family="'Liberation Serif',serif" font-size="16.04" font-weight="normal" font-style="italic" fill="#ee7428">c</text>
<text transform="translate(19.58,4.80) scale(1.178,1)" font-family="'Liberation Serif',serif" font-size="14.34" font-weight="normal" font-style="normal" fill="#ee7428">2</text>
<text transform="translate(28.60,4.98) skewX(-8.75)" font-family="'Liberation Serif',serif" font-size="31.79" font-weight="normal" font-style="normal" fill="#ee7428">/</text>
<text transform="translate(39.19,0.00) scale(1.066,1)" font-family="'Liberation Serif',serif" font-size="21.83" font-weight="normal" font-style="italic" fill="#ee7428">T</text>
<text transform="translate(52.64,4.74) scale(1.162,1)" font-family="'Liberation Serif',serif" font-size="16.04" font-weight="normal" font-style="italic" fill="#ee7428">c</text>
<text transform="translate(59.69,4.80) scale(1.281,1)" font-family="'Liberation Serif',serif" font-size="14.39" font-weight="normal" font-style="normal" fill="#ee7428">1</text>
<text transform="translate(74.65,3.14) scale(1.067,1)" font-family="'Liberation Serif',serif" font-size="27.20" font-weight="normal" font-style="normal" fill="#ee7428">=</text>
<text transform="translate(96.54,-0.12) scale(1.072,1)" font-family="'Liberation Serif',serif" font-size="21.32" font-weight="normal" font-style="normal" fill="#ee7428">0.5</text>
</g>
</svg>
</body></html>
